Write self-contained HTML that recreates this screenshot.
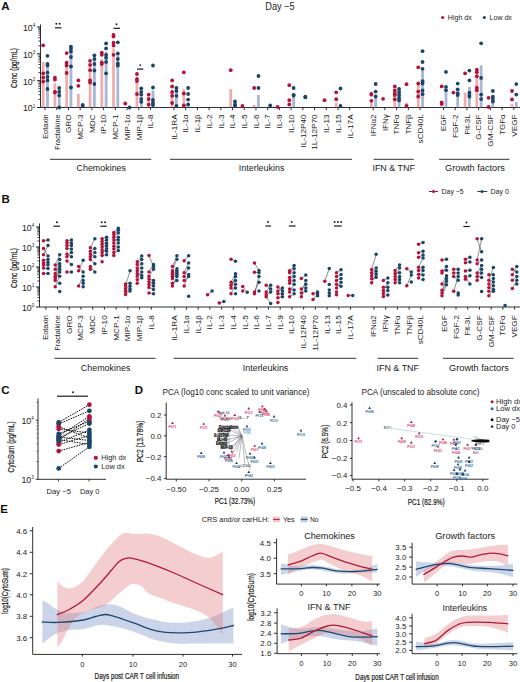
<!DOCTYPE html>
<html><head><meta charset="utf-8"><style>
html,body{margin:0;padding:0;background:#fff;width:520px;height:682px;overflow:hidden}
svg{display:block}
text{font-family:"Liberation Sans",sans-serif}
</style></head><body>
<svg width="520" height="682" viewBox="0 0 520 682">
<rect width="520" height="682" fill="#fff"/>
<text x="5.3" y="5.9" font-size="11.5" fill="#111" font-weight="bold" text-anchor="middle" dominant-baseline="central">A</text>
<text x="280" y="6.9" font-size="10" fill="#222" font-weight="normal" text-anchor="middle" textLength="29.5" lengthAdjust="spacingAndGlyphs" dominant-baseline="central">Day −5</text>
<circle cx="442.7" cy="17.5" r="1.6" fill="#b5123b"/>
<text x="447.8" y="17.5" font-size="7" fill="#222" font-weight="normal" text-anchor="start" textLength="24" lengthAdjust="spacingAndGlyphs" dominant-baseline="central">High dx</text>
<circle cx="484.4" cy="17.5" r="1.6" fill="#1b4568"/>
<text x="489.6" y="17.5" font-size="7" fill="#222" font-weight="normal" text-anchor="start" textLength="22.3" lengthAdjust="spacingAndGlyphs" dominant-baseline="central">Low dx</text>
<line x1="40.5" y1="24.5" x2="40.5" y2="107.5" stroke="#1a1a1a" stroke-width="0.9"/>
<line x1="37.1" y1="107.5" x2="40.5" y2="107.5" stroke="#1a1a1a" stroke-width="1"/>
<text x="35.3" y="108.4" font-size="8.8" fill="#222" text-anchor="end" dominant-baseline="central">10<tspan font-size="4.6" dy="-2.7">1</tspan></text>
<line x1="37.1" y1="80.67" x2="40.5" y2="80.67" stroke="#1a1a1a" stroke-width="1"/>
<text x="35.3" y="81.57" font-size="8.8" fill="#222" text-anchor="end" dominant-baseline="central">10<tspan font-size="4.6" dy="-2.7">2</tspan></text>
<line x1="37.1" y1="53.84" x2="40.5" y2="53.84" stroke="#1a1a1a" stroke-width="1"/>
<text x="35.3" y="54.74" font-size="8.8" fill="#222" text-anchor="end" dominant-baseline="central">10<tspan font-size="4.6" dy="-2.7">3</tspan></text>
<line x1="37.1" y1="27.01" x2="40.5" y2="27.01" stroke="#1a1a1a" stroke-width="1"/>
<text x="35.3" y="27.91" font-size="8.8" fill="#222" text-anchor="end" dominant-baseline="central">10<tspan font-size="4.6" dy="-2.7">4</tspan></text>
<line x1="38.3" y1="99.42" x2="40.5" y2="99.42" stroke="#1a1a1a" stroke-width="0.8"/>
<line x1="38.3" y1="94.7" x2="40.5" y2="94.7" stroke="#1a1a1a" stroke-width="0.8"/>
<line x1="38.3" y1="91.35" x2="40.5" y2="91.35" stroke="#1a1a1a" stroke-width="0.8"/>
<line x1="38.3" y1="88.75" x2="40.5" y2="88.75" stroke="#1a1a1a" stroke-width="0.8"/>
<line x1="38.3" y1="86.62" x2="40.5" y2="86.62" stroke="#1a1a1a" stroke-width="0.8"/>
<line x1="38.3" y1="84.83" x2="40.5" y2="84.83" stroke="#1a1a1a" stroke-width="0.8"/>
<line x1="38.3" y1="83.27" x2="40.5" y2="83.27" stroke="#1a1a1a" stroke-width="0.8"/>
<line x1="38.3" y1="81.9" x2="40.5" y2="81.9" stroke="#1a1a1a" stroke-width="0.8"/>
<line x1="38.3" y1="72.59" x2="40.5" y2="72.59" stroke="#1a1a1a" stroke-width="0.8"/>
<line x1="38.3" y1="67.87" x2="40.5" y2="67.87" stroke="#1a1a1a" stroke-width="0.8"/>
<line x1="38.3" y1="64.52" x2="40.5" y2="64.52" stroke="#1a1a1a" stroke-width="0.8"/>
<line x1="38.3" y1="61.92" x2="40.5" y2="61.92" stroke="#1a1a1a" stroke-width="0.8"/>
<line x1="38.3" y1="59.79" x2="40.5" y2="59.79" stroke="#1a1a1a" stroke-width="0.8"/>
<line x1="38.3" y1="58" x2="40.5" y2="58" stroke="#1a1a1a" stroke-width="0.8"/>
<line x1="38.3" y1="56.44" x2="40.5" y2="56.44" stroke="#1a1a1a" stroke-width="0.8"/>
<line x1="38.3" y1="55.07" x2="40.5" y2="55.07" stroke="#1a1a1a" stroke-width="0.8"/>
<line x1="38.3" y1="45.76" x2="40.5" y2="45.76" stroke="#1a1a1a" stroke-width="0.8"/>
<line x1="38.3" y1="41.04" x2="40.5" y2="41.04" stroke="#1a1a1a" stroke-width="0.8"/>
<line x1="38.3" y1="37.69" x2="40.5" y2="37.69" stroke="#1a1a1a" stroke-width="0.8"/>
<line x1="38.3" y1="35.09" x2="40.5" y2="35.09" stroke="#1a1a1a" stroke-width="0.8"/>
<line x1="38.3" y1="32.96" x2="40.5" y2="32.96" stroke="#1a1a1a" stroke-width="0.8"/>
<line x1="38.3" y1="31.17" x2="40.5" y2="31.17" stroke="#1a1a1a" stroke-width="0.8"/>
<line x1="38.3" y1="29.61" x2="40.5" y2="29.61" stroke="#1a1a1a" stroke-width="0.8"/>
<line x1="38.3" y1="28.24" x2="40.5" y2="28.24" stroke="#1a1a1a" stroke-width="0.8"/>
<line x1="40.5" y1="107.5" x2="520" y2="107.5" stroke="#1a1a1a" stroke-width="0.9"/>
<text transform="translate(13.6,68) rotate(-90)" font-size="9.2" fill="#222" font-weight="normal" text-anchor="middle" textLength="40" lengthAdjust="spacingAndGlyphs" dominant-baseline="central" stroke="#222" stroke-width="0.22">Conc (pg/mL)</text>
<line x1="45" y1="107.5" x2="45" y2="110.2" stroke="#1a1a1a" stroke-width="0.9"/>
<text transform="translate(45.3,114.4) rotate(-90)" font-size="8.1" fill="#222" font-weight="normal" text-anchor="end" textLength="24.35" lengthAdjust="spacingAndGlyphs" dominant-baseline="central">Eotaxin</text>
<line x1="56.72" y1="107.5" x2="56.72" y2="110.2" stroke="#1a1a1a" stroke-width="0.9"/>
<text transform="translate(57.02,114.4) rotate(-90)" font-size="8.1" fill="#222" font-weight="normal" text-anchor="end" textLength="35.3" lengthAdjust="spacingAndGlyphs" dominant-baseline="central">Fractalkine</text>
<line x1="68.44" y1="107.5" x2="68.44" y2="110.2" stroke="#1a1a1a" stroke-width="0.9"/>
<text transform="translate(68.74,114.4) rotate(-90)" font-size="8.1" fill="#222" font-weight="normal" text-anchor="end" textLength="18.62" lengthAdjust="spacingAndGlyphs" dominant-baseline="central">GRO</text>
<line x1="80.16" y1="107.5" x2="80.16" y2="110.2" stroke="#1a1a1a" stroke-width="0.9"/>
<text transform="translate(80.46,114.4) rotate(-90)" font-size="8.1" fill="#222" font-weight="normal" text-anchor="end" textLength="25.44" lengthAdjust="spacingAndGlyphs" dominant-baseline="central">MCP-3</text>
<line x1="91.88" y1="107.5" x2="91.88" y2="110.2" stroke="#1a1a1a" stroke-width="0.9"/>
<text transform="translate(92.18,114.4) rotate(-90)" font-size="8.1" fill="#222" font-weight="normal" text-anchor="end" textLength="18.62" lengthAdjust="spacingAndGlyphs" dominant-baseline="central">MDC</text>
<line x1="103.6" y1="107.5" x2="103.6" y2="110.2" stroke="#1a1a1a" stroke-width="0.9"/>
<text transform="translate(103.9,114.4) rotate(-90)" font-size="8.1" fill="#222" font-weight="normal" text-anchor="end" textLength="19.54" lengthAdjust="spacingAndGlyphs" dominant-baseline="central">IP-10</text>
<line x1="115.32" y1="107.5" x2="115.32" y2="110.2" stroke="#1a1a1a" stroke-width="0.9"/>
<text transform="translate(115.62,114.4) rotate(-90)" font-size="8.1" fill="#222" font-weight="normal" text-anchor="end" textLength="25.44" lengthAdjust="spacingAndGlyphs" dominant-baseline="central">MCP-1</text>
<line x1="127.04" y1="107.5" x2="127.04" y2="110.2" stroke="#1a1a1a" stroke-width="0.9"/>
<text transform="translate(127.34,114.4) rotate(-90)" font-size="8.1" fill="#222" font-weight="normal" text-anchor="end" textLength="25.9" lengthAdjust="spacingAndGlyphs" dominant-baseline="central">MIP-1α</text>
<line x1="138.76" y1="107.5" x2="138.76" y2="110.2" stroke="#1a1a1a" stroke-width="0.9"/>
<text transform="translate(139.06,114.4) rotate(-90)" font-size="8.1" fill="#222" font-weight="normal" text-anchor="end" textLength="25.88" lengthAdjust="spacingAndGlyphs" dominant-baseline="central">MIP-1β</text>
<line x1="150.48" y1="107.5" x2="150.48" y2="110.2" stroke="#1a1a1a" stroke-width="0.9"/>
<text transform="translate(150.78,114.4) rotate(-90)" font-size="8.1" fill="#222" font-weight="normal" text-anchor="end" textLength="14.09" lengthAdjust="spacingAndGlyphs" dominant-baseline="central">IL-8</text>
<line x1="173.92" y1="107.5" x2="173.92" y2="110.2" stroke="#1a1a1a" stroke-width="0.9"/>
<text transform="translate(174.22,114.4) rotate(-90)" font-size="8.1" fill="#222" font-weight="normal" text-anchor="end" textLength="25.45" lengthAdjust="spacingAndGlyphs" dominant-baseline="central">IL-1RA</text>
<line x1="185.64" y1="107.5" x2="185.64" y2="110.2" stroke="#1a1a1a" stroke-width="0.9"/>
<text transform="translate(185.94,114.4) rotate(-90)" font-size="8.1" fill="#222" font-weight="normal" text-anchor="end" textLength="18.18" lengthAdjust="spacingAndGlyphs" dominant-baseline="central">IL-1α</text>
<line x1="197.36" y1="107.5" x2="197.36" y2="110.2" stroke="#1a1a1a" stroke-width="0.9"/>
<text transform="translate(197.66,114.4) rotate(-90)" font-size="8.1" fill="#222" font-weight="normal" text-anchor="end" textLength="18.16" lengthAdjust="spacingAndGlyphs" dominant-baseline="central">IL-1β</text>
<line x1="209.08" y1="107.5" x2="209.08" y2="110.2" stroke="#1a1a1a" stroke-width="0.9"/>
<text transform="translate(209.38,114.4) rotate(-90)" font-size="8.1" fill="#222" font-weight="normal" text-anchor="end" textLength="14.09" lengthAdjust="spacingAndGlyphs" dominant-baseline="central">IL-2</text>
<line x1="220.8" y1="107.5" x2="220.8" y2="110.2" stroke="#1a1a1a" stroke-width="0.9"/>
<text transform="translate(221.1,114.4) rotate(-90)" font-size="8.1" fill="#222" font-weight="normal" text-anchor="end" textLength="14.09" lengthAdjust="spacingAndGlyphs" dominant-baseline="central">IL-3</text>
<line x1="232.52" y1="107.5" x2="232.52" y2="110.2" stroke="#1a1a1a" stroke-width="0.9"/>
<text transform="translate(232.82,114.4) rotate(-90)" font-size="8.1" fill="#222" font-weight="normal" text-anchor="end" textLength="14.09" lengthAdjust="spacingAndGlyphs" dominant-baseline="central">IL-4</text>
<line x1="244.24" y1="107.5" x2="244.24" y2="110.2" stroke="#1a1a1a" stroke-width="0.9"/>
<text transform="translate(244.54,114.4) rotate(-90)" font-size="8.1" fill="#222" font-weight="normal" text-anchor="end" textLength="14.09" lengthAdjust="spacingAndGlyphs" dominant-baseline="central">IL-5</text>
<line x1="255.96" y1="107.5" x2="255.96" y2="110.2" stroke="#1a1a1a" stroke-width="0.9"/>
<text transform="translate(256.26,114.4) rotate(-90)" font-size="8.1" fill="#222" font-weight="normal" text-anchor="end" textLength="14.09" lengthAdjust="spacingAndGlyphs" dominant-baseline="central">IL-6</text>
<line x1="267.68" y1="107.5" x2="267.68" y2="110.2" stroke="#1a1a1a" stroke-width="0.9"/>
<text transform="translate(267.98,114.4) rotate(-90)" font-size="8.1" fill="#222" font-weight="normal" text-anchor="end" textLength="14.09" lengthAdjust="spacingAndGlyphs" dominant-baseline="central">IL-7</text>
<line x1="279.4" y1="107.5" x2="279.4" y2="110.2" stroke="#1a1a1a" stroke-width="0.9"/>
<text transform="translate(279.7,114.4) rotate(-90)" font-size="8.1" fill="#222" font-weight="normal" text-anchor="end" textLength="14.09" lengthAdjust="spacingAndGlyphs" dominant-baseline="central">IL-9</text>
<line x1="291.12" y1="107.5" x2="291.12" y2="110.2" stroke="#1a1a1a" stroke-width="0.9"/>
<text transform="translate(291.42,114.4) rotate(-90)" font-size="8.1" fill="#222" font-weight="normal" text-anchor="end" textLength="18.63" lengthAdjust="spacingAndGlyphs" dominant-baseline="central">IL-10</text>
<line x1="302.84" y1="107.5" x2="302.84" y2="110.2" stroke="#1a1a1a" stroke-width="0.9"/>
<text transform="translate(303.14,114.4) rotate(-90)" font-size="8.1" fill="#222" font-weight="normal" text-anchor="end" textLength="33.18" lengthAdjust="spacingAndGlyphs" dominant-baseline="central">IL-12P40</text>
<line x1="314.56" y1="107.5" x2="314.56" y2="110.2" stroke="#1a1a1a" stroke-width="0.9"/>
<text transform="translate(314.86,114.4) rotate(-90)" font-size="8.1" fill="#222" font-weight="normal" text-anchor="end" textLength="35.46" lengthAdjust="spacingAndGlyphs" dominant-baseline="central">1L-12P70</text>
<line x1="326.28" y1="107.5" x2="326.28" y2="110.2" stroke="#1a1a1a" stroke-width="0.9"/>
<text transform="translate(326.58,114.4) rotate(-90)" font-size="8.1" fill="#222" font-weight="normal" text-anchor="end" textLength="18.63" lengthAdjust="spacingAndGlyphs" dominant-baseline="central">IL-13</text>
<line x1="338" y1="107.5" x2="338" y2="110.2" stroke="#1a1a1a" stroke-width="0.9"/>
<text transform="translate(338.3,114.4) rotate(-90)" font-size="8.1" fill="#222" font-weight="normal" text-anchor="end" textLength="18.63" lengthAdjust="spacingAndGlyphs" dominant-baseline="central">IL-15</text>
<line x1="349.72" y1="107.5" x2="349.72" y2="110.2" stroke="#1a1a1a" stroke-width="0.9"/>
<text transform="translate(350.02,114.4) rotate(-90)" font-size="8.1" fill="#222" font-weight="normal" text-anchor="end" textLength="24.09" lengthAdjust="spacingAndGlyphs" dominant-baseline="central">IL-17A</text>
<line x1="373.16" y1="107.5" x2="373.16" y2="110.2" stroke="#1a1a1a" stroke-width="0.9"/>
<text transform="translate(373.46,114.4) rotate(-90)" font-size="8.1" fill="#222" font-weight="normal" text-anchor="end" textLength="21.81" lengthAdjust="spacingAndGlyphs" dominant-baseline="central">IFNα2</text>
<line x1="384.88" y1="107.5" x2="384.88" y2="110.2" stroke="#1a1a1a" stroke-width="0.9"/>
<text transform="translate(385.18,114.4) rotate(-90)" font-size="8.1" fill="#222" font-weight="normal" text-anchor="end" textLength="16.71" lengthAdjust="spacingAndGlyphs" dominant-baseline="central">IFNγ</text>
<line x1="396.6" y1="107.5" x2="396.6" y2="110.2" stroke="#1a1a1a" stroke-width="0.9"/>
<text transform="translate(396.9,114.4) rotate(-90)" font-size="8.1" fill="#222" font-weight="normal" text-anchor="end" textLength="19.99" lengthAdjust="spacingAndGlyphs" dominant-baseline="central">TNFα</text>
<line x1="408.32" y1="107.5" x2="408.32" y2="110.2" stroke="#1a1a1a" stroke-width="0.9"/>
<text transform="translate(408.62,114.4) rotate(-90)" font-size="8.1" fill="#222" font-weight="normal" text-anchor="end" textLength="19.96" lengthAdjust="spacingAndGlyphs" dominant-baseline="central">TNFβ</text>
<line x1="420.04" y1="107.5" x2="420.04" y2="110.2" stroke="#1a1a1a" stroke-width="0.9"/>
<text transform="translate(420.34,114.4) rotate(-90)" font-size="8.1" fill="#222" font-weight="normal" text-anchor="end" textLength="28.99" lengthAdjust="spacingAndGlyphs" dominant-baseline="central">sCD40L</text>
<line x1="443.48" y1="107.5" x2="443.48" y2="110.2" stroke="#1a1a1a" stroke-width="0.9"/>
<text transform="translate(443.78,114.4) rotate(-90)" font-size="8.1" fill="#222" font-weight="normal" text-anchor="end" textLength="16.81" lengthAdjust="spacingAndGlyphs" dominant-baseline="central">EGF</text>
<line x1="455.2" y1="107.5" x2="455.2" y2="110.2" stroke="#1a1a1a" stroke-width="0.9"/>
<text transform="translate(455.5,114.4) rotate(-90)" font-size="8.1" fill="#222" font-weight="normal" text-anchor="end" textLength="23.62" lengthAdjust="spacingAndGlyphs" dominant-baseline="central">FGF-2</text>
<line x1="466.92" y1="107.5" x2="466.92" y2="110.2" stroke="#1a1a1a" stroke-width="0.9"/>
<text transform="translate(467.22,114.4) rotate(-90)" font-size="8.1" fill="#222" font-weight="normal" text-anchor="end" textLength="20.35" lengthAdjust="spacingAndGlyphs" dominant-baseline="central">Flt-3L</text>
<line x1="478.64" y1="107.5" x2="478.64" y2="110.2" stroke="#1a1a1a" stroke-width="0.9"/>
<text transform="translate(478.94,114.4) rotate(-90)" font-size="8.1" fill="#222" font-weight="normal" text-anchor="end" textLength="25.43" lengthAdjust="spacingAndGlyphs" dominant-baseline="central">G-CSF</text>
<line x1="490.36" y1="107.5" x2="490.36" y2="110.2" stroke="#1a1a1a" stroke-width="0.9"/>
<text transform="translate(490.66,114.4) rotate(-90)" font-size="8.1" fill="#222" font-weight="normal" text-anchor="end" textLength="32.24" lengthAdjust="spacingAndGlyphs" dominant-baseline="central">GM-CSF</text>
<line x1="502.08" y1="107.5" x2="502.08" y2="110.2" stroke="#1a1a1a" stroke-width="0.9"/>
<text transform="translate(502.38,114.4) rotate(-90)" font-size="8.1" fill="#222" font-weight="normal" text-anchor="end" textLength="20.44" lengthAdjust="spacingAndGlyphs" dominant-baseline="central">TGFα</text>
<line x1="513.8" y1="107.5" x2="513.8" y2="110.2" stroke="#1a1a1a" stroke-width="0.9"/>
<text transform="translate(514.1,114.4) rotate(-90)" font-size="8.1" fill="#222" font-weight="normal" text-anchor="end" textLength="22.26" lengthAdjust="spacingAndGlyphs" dominant-baseline="central">VEGF</text>
<rect x="41.8" y="62" width="2.8" height="45.1" fill="#eeaead"/>
<rect x="46.1" y="66" width="2.8" height="41.1" fill="#a8b7d6"/>
<rect x="53.52" y="83.3" width="2.8" height="23.8" fill="#eeaead"/>
<rect x="57.82" y="89" width="2.8" height="18.1" fill="#a8b7d6"/>
<rect x="65.24" y="63.4" width="2.8" height="43.7" fill="#eeaead"/>
<rect x="69.54" y="47" width="2.8" height="60.1" fill="#a8b7d6"/>
<rect x="76.96" y="94" width="2.8" height="13.1" fill="#eeaead"/>
<rect x="88.68" y="67" width="2.8" height="40.1" fill="#eeaead"/>
<rect x="92.98" y="57.7" width="2.8" height="49.4" fill="#a8b7d6"/>
<rect x="100.4" y="59" width="2.8" height="48.1" fill="#eeaead"/>
<rect x="104.7" y="52" width="2.8" height="55.1" fill="#a8b7d6"/>
<rect x="112.12" y="48.4" width="2.8" height="58.7" fill="#eeaead"/>
<rect x="116.42" y="53.4" width="2.8" height="53.7" fill="#a8b7d6"/>
<rect x="135.56" y="82" width="2.8" height="25.1" fill="#eeaead"/>
<rect x="139.86" y="99" width="2.8" height="8.1" fill="#a8b7d6"/>
<rect x="147.28" y="100" width="2.8" height="7.1" fill="#eeaead"/>
<rect x="151.58" y="90.4" width="2.8" height="16.7" fill="#a8b7d6"/>
<rect x="170.72" y="92" width="2.8" height="15.1" fill="#eeaead"/>
<rect x="175.02" y="90" width="2.8" height="17.1" fill="#a8b7d6"/>
<rect x="182.44" y="89" width="2.8" height="18.1" fill="#eeaead"/>
<rect x="186.74" y="103.5" width="2.8" height="3.6" fill="#a8b7d6"/>
<rect x="229.32" y="89" width="2.8" height="18.1" fill="#eeaead"/>
<rect x="252.76" y="105" width="2.8" height="2.1" fill="#eeaead"/>
<rect x="257.06" y="94.8" width="2.8" height="12.3" fill="#a8b7d6"/>
<rect x="292.22" y="94" width="2.8" height="13.1" fill="#a8b7d6"/>
<rect x="334.8" y="102.5" width="2.8" height="4.6" fill="#eeaead"/>
<rect x="369.96" y="102.7" width="2.8" height="4.4" fill="#eeaead"/>
<rect x="374.26" y="96.5" width="2.8" height="10.6" fill="#a8b7d6"/>
<rect x="393.4" y="95" width="2.8" height="12.1" fill="#eeaead"/>
<rect x="397.7" y="88.8" width="2.8" height="18.3" fill="#a8b7d6"/>
<rect x="405.12" y="102.7" width="2.8" height="4.4" fill="#eeaead"/>
<rect x="416.84" y="84.2" width="2.8" height="22.9" fill="#eeaead"/>
<rect x="421.14" y="70.4" width="2.8" height="36.7" fill="#a8b7d6"/>
<rect x="444.58" y="90.2" width="2.8" height="16.9" fill="#a8b7d6"/>
<rect x="456.3" y="89.3" width="2.8" height="17.8" fill="#a8b7d6"/>
<rect x="463.72" y="92.6" width="2.8" height="14.5" fill="#eeaead"/>
<rect x="468.02" y="86.9" width="2.8" height="20.2" fill="#a8b7d6"/>
<rect x="475.44" y="70.5" width="2.8" height="36.6" fill="#eeaead"/>
<rect x="479.74" y="65.3" width="2.8" height="41.8" fill="#a8b7d6"/>
<rect x="491.46" y="100" width="2.8" height="7.1" fill="#a8b7d6"/>
<rect x="510.6" y="104" width="2.8" height="3.1" fill="#eeaead"/>
<rect x="514.9" y="102" width="2.8" height="5.1" fill="#a8b7d6"/>
<circle cx="43.2" cy="45.3" r="1.9" fill="#b5123b"/>
<circle cx="43.2" cy="73.3" r="1.9" fill="#b5123b"/>
<circle cx="43.2" cy="77.6" r="1.9" fill="#b5123b"/>
<circle cx="43.2" cy="81.6" r="1.9" fill="#b5123b"/>
<circle cx="47.5" cy="55.8" r="1.9" fill="#1b4568"/>
<circle cx="47.5" cy="64" r="1.9" fill="#1b4568"/>
<circle cx="47.5" cy="65.5" r="1.9" fill="#1b4568"/>
<circle cx="47.5" cy="72.6" r="1.9" fill="#1b4568"/>
<circle cx="47.5" cy="76.9" r="1.9" fill="#1b4568"/>
<circle cx="47.5" cy="80.4" r="1.9" fill="#1b4568"/>
<circle cx="47.5" cy="89" r="1.9" fill="#1b4568"/>
<circle cx="54.92" cy="77.6" r="1.9" fill="#b5123b"/>
<circle cx="54.92" cy="79.7" r="1.9" fill="#b5123b"/>
<circle cx="54.92" cy="91.8" r="1.9" fill="#b5123b"/>
<circle cx="54.92" cy="92.5" r="1.9" fill="#b5123b"/>
<circle cx="59.22" cy="88" r="1.9" fill="#1b4568"/>
<circle cx="59.22" cy="91.8" r="1.9" fill="#1b4568"/>
<circle cx="59.22" cy="95.4" r="1.9" fill="#1b4568"/>
<circle cx="59.22" cy="107.5" r="1.9" fill="#1b4568"/>
<circle cx="66.64" cy="53.1" r="1.9" fill="#b5123b"/>
<circle cx="66.64" cy="62.7" r="1.9" fill="#b5123b"/>
<circle cx="66.64" cy="65.5" r="1.9" fill="#b5123b"/>
<circle cx="66.64" cy="73" r="1.9" fill="#b5123b"/>
<circle cx="70.94" cy="46.6" r="1.9" fill="#1b4568"/>
<circle cx="70.94" cy="49" r="1.9" fill="#1b4568"/>
<circle cx="70.94" cy="51.7" r="1.9" fill="#1b4568"/>
<circle cx="70.94" cy="57" r="1.9" fill="#1b4568"/>
<circle cx="70.94" cy="66.5" r="1.9" fill="#1b4568"/>
<circle cx="70.94" cy="87.5" r="1.9" fill="#1b4568"/>
<circle cx="78.36" cy="80.4" r="1.9" fill="#b5123b"/>
<circle cx="78.36" cy="85.8" r="1.9" fill="#b5123b"/>
<circle cx="82.66" cy="105" r="1.9" fill="#1b4568"/>
<circle cx="82.66" cy="106" r="1.9" fill="#1b4568"/>
<circle cx="90.08" cy="60.8" r="1.9" fill="#b5123b"/>
<circle cx="90.08" cy="65" r="1.9" fill="#b5123b"/>
<circle cx="90.08" cy="70.2" r="1.9" fill="#b5123b"/>
<circle cx="90.08" cy="80.4" r="1.9" fill="#b5123b"/>
<circle cx="90.08" cy="82.6" r="1.9" fill="#b5123b"/>
<circle cx="94.38" cy="55.3" r="1.9" fill="#1b4568"/>
<circle cx="94.38" cy="59" r="1.9" fill="#1b4568"/>
<circle cx="94.38" cy="64" r="1.9" fill="#1b4568"/>
<circle cx="94.38" cy="70.5" r="1.9" fill="#1b4568"/>
<circle cx="94.38" cy="84" r="1.9" fill="#1b4568"/>
<circle cx="101.8" cy="52.7" r="1.9" fill="#b5123b"/>
<circle cx="101.8" cy="54.8" r="1.9" fill="#b5123b"/>
<circle cx="101.8" cy="62.6" r="1.9" fill="#b5123b"/>
<circle cx="101.8" cy="64" r="1.9" fill="#b5123b"/>
<circle cx="106.1" cy="43.4" r="1.9" fill="#1b4568"/>
<circle cx="106.1" cy="48.4" r="1.9" fill="#1b4568"/>
<circle cx="106.1" cy="54.8" r="1.9" fill="#1b4568"/>
<circle cx="106.1" cy="57.7" r="1.9" fill="#1b4568"/>
<circle cx="106.1" cy="62" r="1.9" fill="#1b4568"/>
<circle cx="106.1" cy="73.3" r="1.9" fill="#1b4568"/>
<circle cx="113.52" cy="34.9" r="1.9" fill="#b5123b"/>
<circle cx="113.52" cy="36.6" r="1.9" fill="#b5123b"/>
<circle cx="113.52" cy="42.7" r="1.9" fill="#b5123b"/>
<circle cx="113.52" cy="45.6" r="1.9" fill="#b5123b"/>
<circle cx="113.52" cy="54.8" r="1.9" fill="#b5123b"/>
<circle cx="117.82" cy="42.3" r="1.9" fill="#1b4568"/>
<circle cx="117.82" cy="53.4" r="1.9" fill="#1b4568"/>
<circle cx="117.82" cy="59" r="1.9" fill="#1b4568"/>
<circle cx="117.82" cy="63.4" r="1.9" fill="#1b4568"/>
<circle cx="117.82" cy="65.5" r="1.9" fill="#1b4568"/>
<circle cx="125.24" cy="103.5" r="1.9" fill="#b5123b"/>
<circle cx="129.54" cy="107.5" r="1.9" fill="#1b4568"/>
<circle cx="136.96" cy="74" r="1.9" fill="#b5123b"/>
<circle cx="136.96" cy="79" r="1.9" fill="#b5123b"/>
<circle cx="136.96" cy="81.1" r="1.9" fill="#b5123b"/>
<circle cx="136.96" cy="94" r="1.9" fill="#b5123b"/>
<circle cx="141.26" cy="88.3" r="1.9" fill="#1b4568"/>
<circle cx="141.26" cy="91.8" r="1.9" fill="#1b4568"/>
<circle cx="141.26" cy="94.7" r="1.9" fill="#1b4568"/>
<circle cx="141.26" cy="99" r="1.9" fill="#1b4568"/>
<circle cx="141.26" cy="101.8" r="1.9" fill="#1b4568"/>
<circle cx="148.68" cy="94.7" r="1.9" fill="#b5123b"/>
<circle cx="148.68" cy="99" r="1.9" fill="#b5123b"/>
<circle cx="148.68" cy="104.6" r="1.9" fill="#b5123b"/>
<circle cx="152.98" cy="65.5" r="1.9" fill="#1b4568"/>
<circle cx="152.98" cy="87.5" r="1.9" fill="#1b4568"/>
<circle cx="152.98" cy="100" r="1.9" fill="#1b4568"/>
<circle cx="152.98" cy="103" r="1.9" fill="#1b4568"/>
<circle cx="152.98" cy="105" r="1.9" fill="#1b4568"/>
<circle cx="172.12" cy="80.4" r="1.9" fill="#b5123b"/>
<circle cx="172.12" cy="86.5" r="1.9" fill="#b5123b"/>
<circle cx="172.12" cy="92" r="1.9" fill="#b5123b"/>
<circle cx="172.12" cy="95.8" r="1.9" fill="#b5123b"/>
<circle cx="172.12" cy="103" r="1.9" fill="#b5123b"/>
<circle cx="176.42" cy="88" r="1.9" fill="#1b4568"/>
<circle cx="176.42" cy="91" r="1.9" fill="#1b4568"/>
<circle cx="176.42" cy="95.8" r="1.9" fill="#1b4568"/>
<circle cx="176.42" cy="106" r="1.9" fill="#1b4568"/>
<circle cx="183.84" cy="72.3" r="1.9" fill="#b5123b"/>
<circle cx="183.84" cy="93.5" r="1.9" fill="#b5123b"/>
<circle cx="183.84" cy="105.4" r="1.9" fill="#b5123b"/>
<circle cx="188.14" cy="88" r="1.9" fill="#1b4568"/>
<circle cx="188.14" cy="94" r="1.9" fill="#1b4568"/>
<circle cx="188.14" cy="99.6" r="1.9" fill="#1b4568"/>
<circle cx="188.14" cy="104.4" r="1.9" fill="#1b4568"/>
<circle cx="230.72" cy="70.2" r="1.9" fill="#b5123b"/>
<circle cx="235.02" cy="101.5" r="1.9" fill="#1b4568"/>
<circle cx="235.02" cy="104.4" r="1.9" fill="#1b4568"/>
<circle cx="235.02" cy="106" r="1.9" fill="#1b4568"/>
<circle cx="242.44" cy="106" r="1.9" fill="#b5123b"/>
<circle cx="254.16" cy="88" r="1.9" fill="#b5123b"/>
<circle cx="258.46" cy="76" r="1.9" fill="#1b4568"/>
<circle cx="258.46" cy="88" r="1.9" fill="#1b4568"/>
<circle cx="270.18" cy="105.4" r="1.9" fill="#1b4568"/>
<circle cx="277.6" cy="107" r="1.9" fill="#b5123b"/>
<circle cx="289.32" cy="85.2" r="1.9" fill="#b5123b"/>
<circle cx="289.32" cy="100.2" r="1.9" fill="#b5123b"/>
<circle cx="289.32" cy="104.4" r="1.9" fill="#b5123b"/>
<circle cx="293.62" cy="88" r="1.9" fill="#1b4568"/>
<circle cx="293.62" cy="94.8" r="1.9" fill="#1b4568"/>
<circle cx="293.62" cy="95.5" r="1.9" fill="#1b4568"/>
<circle cx="305.34" cy="96.7" r="1.9" fill="#1b4568"/>
<circle cx="305.34" cy="97.3" r="1.9" fill="#1b4568"/>
<circle cx="324.48" cy="100.2" r="1.9" fill="#b5123b"/>
<circle cx="336.2" cy="92.3" r="1.9" fill="#b5123b"/>
<circle cx="336.2" cy="99.2" r="1.9" fill="#b5123b"/>
<circle cx="340.5" cy="88.5" r="1.9" fill="#1b4568"/>
<circle cx="340.5" cy="106" r="1.9" fill="#1b4568"/>
<circle cx="371.36" cy="93.8" r="1.9" fill="#b5123b"/>
<circle cx="371.36" cy="94.7" r="1.9" fill="#b5123b"/>
<circle cx="371.36" cy="100.8" r="1.9" fill="#b5123b"/>
<circle cx="375.66" cy="84" r="1.9" fill="#1b4568"/>
<circle cx="375.66" cy="91.6" r="1.9" fill="#1b4568"/>
<circle cx="375.66" cy="96.5" r="1.9" fill="#1b4568"/>
<circle cx="383.08" cy="98.8" r="1.9" fill="#b5123b"/>
<circle cx="394.8" cy="86.5" r="1.9" fill="#b5123b"/>
<circle cx="394.8" cy="90.4" r="1.9" fill="#b5123b"/>
<circle cx="394.8" cy="93.5" r="1.9" fill="#b5123b"/>
<circle cx="394.8" cy="95" r="1.9" fill="#b5123b"/>
<circle cx="394.8" cy="99.3" r="1.9" fill="#b5123b"/>
<circle cx="399.1" cy="88.8" r="1.9" fill="#1b4568"/>
<circle cx="399.1" cy="92" r="1.9" fill="#1b4568"/>
<circle cx="399.1" cy="95" r="1.9" fill="#1b4568"/>
<circle cx="399.1" cy="98" r="1.9" fill="#1b4568"/>
<circle cx="399.1" cy="100.4" r="1.9" fill="#1b4568"/>
<circle cx="406.52" cy="84.2" r="1.9" fill="#b5123b"/>
<circle cx="406.52" cy="105.8" r="1.9" fill="#b5123b"/>
<circle cx="418.24" cy="67.3" r="1.9" fill="#b5123b"/>
<circle cx="418.24" cy="83.5" r="1.9" fill="#b5123b"/>
<circle cx="418.24" cy="91.6" r="1.9" fill="#b5123b"/>
<circle cx="418.24" cy="96.5" r="1.9" fill="#b5123b"/>
<circle cx="422.54" cy="51.2" r="1.9" fill="#1b4568"/>
<circle cx="422.54" cy="62" r="1.9" fill="#1b4568"/>
<circle cx="422.54" cy="68.8" r="1.9" fill="#1b4568"/>
<circle cx="422.54" cy="81.2" r="1.9" fill="#1b4568"/>
<circle cx="422.54" cy="83.5" r="1.9" fill="#1b4568"/>
<circle cx="422.54" cy="90.4" r="1.9" fill="#1b4568"/>
<circle cx="422.54" cy="94.2" r="1.9" fill="#1b4568"/>
<circle cx="441.68" cy="86.4" r="1.9" fill="#b5123b"/>
<circle cx="441.68" cy="102.4" r="1.9" fill="#b5123b"/>
<circle cx="441.68" cy="104" r="1.9" fill="#b5123b"/>
<circle cx="445.98" cy="71.9" r="1.9" fill="#1b4568"/>
<circle cx="445.98" cy="86.9" r="1.9" fill="#1b4568"/>
<circle cx="445.98" cy="90.2" r="1.9" fill="#1b4568"/>
<circle cx="453.4" cy="92.6" r="1.9" fill="#b5123b"/>
<circle cx="457.7" cy="83.6" r="1.9" fill="#1b4568"/>
<circle cx="457.7" cy="89.3" r="1.9" fill="#1b4568"/>
<circle cx="457.7" cy="93.4" r="1.9" fill="#1b4568"/>
<circle cx="457.7" cy="95" r="1.9" fill="#1b4568"/>
<circle cx="465.12" cy="73.3" r="1.9" fill="#b5123b"/>
<circle cx="469.42" cy="70.6" r="1.9" fill="#1b4568"/>
<circle cx="469.42" cy="80.4" r="1.9" fill="#1b4568"/>
<circle cx="469.42" cy="92.6" r="1.9" fill="#1b4568"/>
<circle cx="469.42" cy="95" r="1.9" fill="#1b4568"/>
<circle cx="469.42" cy="96.7" r="1.9" fill="#1b4568"/>
<circle cx="476.84" cy="69.7" r="1.9" fill="#b5123b"/>
<circle cx="476.84" cy="72.2" r="1.9" fill="#b5123b"/>
<circle cx="476.84" cy="76.3" r="1.9" fill="#b5123b"/>
<circle cx="476.84" cy="87.7" r="1.9" fill="#b5123b"/>
<circle cx="476.84" cy="90.2" r="1.9" fill="#b5123b"/>
<circle cx="481.14" cy="43.3" r="1.9" fill="#1b4568"/>
<circle cx="481.14" cy="77.9" r="1.9" fill="#1b4568"/>
<circle cx="481.14" cy="94.6" r="1.9" fill="#1b4568"/>
<circle cx="481.14" cy="99.1" r="1.9" fill="#1b4568"/>
<circle cx="488.56" cy="97.8" r="1.9" fill="#b5123b"/>
<circle cx="488.56" cy="107" r="1.9" fill="#b5123b"/>
<circle cx="492.86" cy="91" r="1.9" fill="#1b4568"/>
<circle cx="492.86" cy="96.7" r="1.9" fill="#1b4568"/>
<circle cx="492.86" cy="99" r="1.9" fill="#1b4568"/>
<circle cx="492.86" cy="101.6" r="1.9" fill="#1b4568"/>
<circle cx="512" cy="91" r="1.9" fill="#b5123b"/>
<circle cx="512" cy="99.5" r="1.9" fill="#b5123b"/>
<circle cx="516.3" cy="84.1" r="1.9" fill="#1b4568"/>
<circle cx="516.3" cy="94.6" r="1.9" fill="#1b4568"/>
<circle cx="56.35" cy="23.8" r="0.95" fill="#1a1a1a"/>
<circle cx="59.65" cy="23.8" r="0.95" fill="#1a1a1a"/>
<line x1="55" y1="27.8" x2="61.5" y2="27.8" stroke="#1a1a1a" stroke-width="1.2"/>
<circle cx="116.5" cy="24.3" r="0.95" fill="#1a1a1a"/>
<line x1="113.5" y1="28.3" x2="120" y2="28.3" stroke="#1a1a1a" stroke-width="1.2"/>
<circle cx="140.2" cy="65.1" r="0.95" fill="#1a1a1a"/>
<line x1="137" y1="69.1" x2="143.4" y2="69.1" stroke="#1a1a1a" stroke-width="1.2"/>
<line x1="50" y1="159.3" x2="151.3" y2="159.3" stroke="#1a1a1a" stroke-width="0.9"/>
<text x="101.25" y="167.5" font-size="9.6" fill="#222" font-weight="normal" text-anchor="middle" textLength="49.5" lengthAdjust="spacingAndGlyphs" dominant-baseline="central">Chemokines</text>
<line x1="170" y1="159.3" x2="352" y2="159.3" stroke="#1a1a1a" stroke-width="0.9"/>
<text x="261.6" y="167.5" font-size="9.6" fill="#222" font-weight="normal" text-anchor="middle" textLength="45.5" lengthAdjust="spacingAndGlyphs" dominant-baseline="central">Interleukins</text>
<line x1="373.7" y1="159.3" x2="413.7" y2="159.3" stroke="#1a1a1a" stroke-width="0.9"/>
<text x="393.7" y="167.5" font-size="9.6" fill="#222" font-weight="normal" text-anchor="middle" textLength="42.5" lengthAdjust="spacingAndGlyphs" dominant-baseline="central">IFN &amp; TNF</text>
<line x1="439.2" y1="159.3" x2="509.5" y2="159.3" stroke="#1a1a1a" stroke-width="0.9"/>
<text x="474.95" y="167.5" font-size="9.6" fill="#222" font-weight="normal" text-anchor="middle" textLength="59.8" lengthAdjust="spacingAndGlyphs" dominant-baseline="central">Growth factors</text>
<text x="5.6" y="198.8" font-size="11.5" fill="#111" font-weight="bold" text-anchor="middle" dominant-baseline="central">B</text>
<line x1="39.5" y1="223.5" x2="39.5" y2="307" stroke="#1a1a1a" stroke-width="0.9"/>
<line x1="36.1" y1="307" x2="39.5" y2="307" stroke="#1a1a1a" stroke-width="1"/>
<text x="34.3" y="307.9" font-size="8.8" fill="#222" text-anchor="end" dominant-baseline="central">10<tspan font-size="4.6" dy="-2.7">0</tspan></text>
<line x1="36.1" y1="287" x2="39.5" y2="287" stroke="#1a1a1a" stroke-width="1"/>
<text x="34.3" y="287.9" font-size="8.8" fill="#222" text-anchor="end" dominant-baseline="central">10<tspan font-size="4.6" dy="-2.7">1</tspan></text>
<line x1="36.1" y1="267" x2="39.5" y2="267" stroke="#1a1a1a" stroke-width="1"/>
<text x="34.3" y="267.9" font-size="8.8" fill="#222" text-anchor="end" dominant-baseline="central">10<tspan font-size="4.6" dy="-2.7">2</tspan></text>
<line x1="36.1" y1="247" x2="39.5" y2="247" stroke="#1a1a1a" stroke-width="1"/>
<text x="34.3" y="247.9" font-size="8.8" fill="#222" text-anchor="end" dominant-baseline="central">10<tspan font-size="4.6" dy="-2.7">3</tspan></text>
<line x1="36.1" y1="227" x2="39.5" y2="227" stroke="#1a1a1a" stroke-width="1"/>
<text x="34.3" y="227.9" font-size="8.8" fill="#222" text-anchor="end" dominant-baseline="central">10<tspan font-size="4.6" dy="-2.7">4</tspan></text>
<line x1="37.3" y1="300.98" x2="39.5" y2="300.98" stroke="#1a1a1a" stroke-width="0.8"/>
<line x1="37.3" y1="297.46" x2="39.5" y2="297.46" stroke="#1a1a1a" stroke-width="0.8"/>
<line x1="37.3" y1="294.96" x2="39.5" y2="294.96" stroke="#1a1a1a" stroke-width="0.8"/>
<line x1="37.3" y1="293.02" x2="39.5" y2="293.02" stroke="#1a1a1a" stroke-width="0.8"/>
<line x1="37.3" y1="291.44" x2="39.5" y2="291.44" stroke="#1a1a1a" stroke-width="0.8"/>
<line x1="37.3" y1="290.1" x2="39.5" y2="290.1" stroke="#1a1a1a" stroke-width="0.8"/>
<line x1="37.3" y1="288.94" x2="39.5" y2="288.94" stroke="#1a1a1a" stroke-width="0.8"/>
<line x1="37.3" y1="287.92" x2="39.5" y2="287.92" stroke="#1a1a1a" stroke-width="0.8"/>
<line x1="37.3" y1="280.98" x2="39.5" y2="280.98" stroke="#1a1a1a" stroke-width="0.8"/>
<line x1="37.3" y1="277.46" x2="39.5" y2="277.46" stroke="#1a1a1a" stroke-width="0.8"/>
<line x1="37.3" y1="274.96" x2="39.5" y2="274.96" stroke="#1a1a1a" stroke-width="0.8"/>
<line x1="37.3" y1="273.02" x2="39.5" y2="273.02" stroke="#1a1a1a" stroke-width="0.8"/>
<line x1="37.3" y1="271.44" x2="39.5" y2="271.44" stroke="#1a1a1a" stroke-width="0.8"/>
<line x1="37.3" y1="270.1" x2="39.5" y2="270.1" stroke="#1a1a1a" stroke-width="0.8"/>
<line x1="37.3" y1="268.94" x2="39.5" y2="268.94" stroke="#1a1a1a" stroke-width="0.8"/>
<line x1="37.3" y1="267.92" x2="39.5" y2="267.92" stroke="#1a1a1a" stroke-width="0.8"/>
<line x1="37.3" y1="260.98" x2="39.5" y2="260.98" stroke="#1a1a1a" stroke-width="0.8"/>
<line x1="37.3" y1="257.46" x2="39.5" y2="257.46" stroke="#1a1a1a" stroke-width="0.8"/>
<line x1="37.3" y1="254.96" x2="39.5" y2="254.96" stroke="#1a1a1a" stroke-width="0.8"/>
<line x1="37.3" y1="253.02" x2="39.5" y2="253.02" stroke="#1a1a1a" stroke-width="0.8"/>
<line x1="37.3" y1="251.44" x2="39.5" y2="251.44" stroke="#1a1a1a" stroke-width="0.8"/>
<line x1="37.3" y1="250.1" x2="39.5" y2="250.1" stroke="#1a1a1a" stroke-width="0.8"/>
<line x1="37.3" y1="248.94" x2="39.5" y2="248.94" stroke="#1a1a1a" stroke-width="0.8"/>
<line x1="37.3" y1="247.92" x2="39.5" y2="247.92" stroke="#1a1a1a" stroke-width="0.8"/>
<line x1="37.3" y1="240.98" x2="39.5" y2="240.98" stroke="#1a1a1a" stroke-width="0.8"/>
<line x1="37.3" y1="237.46" x2="39.5" y2="237.46" stroke="#1a1a1a" stroke-width="0.8"/>
<line x1="37.3" y1="234.96" x2="39.5" y2="234.96" stroke="#1a1a1a" stroke-width="0.8"/>
<line x1="37.3" y1="233.02" x2="39.5" y2="233.02" stroke="#1a1a1a" stroke-width="0.8"/>
<line x1="37.3" y1="231.44" x2="39.5" y2="231.44" stroke="#1a1a1a" stroke-width="0.8"/>
<line x1="37.3" y1="230.1" x2="39.5" y2="230.1" stroke="#1a1a1a" stroke-width="0.8"/>
<line x1="37.3" y1="228.94" x2="39.5" y2="228.94" stroke="#1a1a1a" stroke-width="0.8"/>
<line x1="37.3" y1="227.92" x2="39.5" y2="227.92" stroke="#1a1a1a" stroke-width="0.8"/>
<line x1="39.5" y1="307" x2="520" y2="307" stroke="#1a1a1a" stroke-width="0.9"/>
<text transform="translate(13.6,268) rotate(-90)" font-size="9.2" fill="#222" font-weight="normal" text-anchor="middle" textLength="40" lengthAdjust="spacingAndGlyphs" dominant-baseline="central" stroke="#222" stroke-width="0.22">Conc (pg/mL)</text>
<line x1="45.8" y1="307" x2="45.8" y2="309.7" stroke="#1a1a1a" stroke-width="0.9"/>
<text transform="translate(45.8,315.3) rotate(-90)" font-size="8.1" fill="#222" font-weight="normal" text-anchor="end" textLength="24.35" lengthAdjust="spacingAndGlyphs" dominant-baseline="central">Eotaxin</text>
<line x1="57.52" y1="307" x2="57.52" y2="309.7" stroke="#1a1a1a" stroke-width="0.9"/>
<text transform="translate(57.52,315.3) rotate(-90)" font-size="8.1" fill="#222" font-weight="normal" text-anchor="end" textLength="35.3" lengthAdjust="spacingAndGlyphs" dominant-baseline="central">Fractalkine</text>
<line x1="69.24" y1="307" x2="69.24" y2="309.7" stroke="#1a1a1a" stroke-width="0.9"/>
<text transform="translate(69.24,315.3) rotate(-90)" font-size="8.1" fill="#222" font-weight="normal" text-anchor="end" textLength="18.62" lengthAdjust="spacingAndGlyphs" dominant-baseline="central">GRO</text>
<line x1="80.96" y1="307" x2="80.96" y2="309.7" stroke="#1a1a1a" stroke-width="0.9"/>
<text transform="translate(80.96,315.3) rotate(-90)" font-size="8.1" fill="#222" font-weight="normal" text-anchor="end" textLength="25.44" lengthAdjust="spacingAndGlyphs" dominant-baseline="central">MCP-3</text>
<line x1="92.68" y1="307" x2="92.68" y2="309.7" stroke="#1a1a1a" stroke-width="0.9"/>
<text transform="translate(92.68,315.3) rotate(-90)" font-size="8.1" fill="#222" font-weight="normal" text-anchor="end" textLength="18.62" lengthAdjust="spacingAndGlyphs" dominant-baseline="central">MDC</text>
<line x1="104.4" y1="307" x2="104.4" y2="309.7" stroke="#1a1a1a" stroke-width="0.9"/>
<text transform="translate(104.4,315.3) rotate(-90)" font-size="8.1" fill="#222" font-weight="normal" text-anchor="end" textLength="19.54" lengthAdjust="spacingAndGlyphs" dominant-baseline="central">IP-10</text>
<line x1="116.12" y1="307" x2="116.12" y2="309.7" stroke="#1a1a1a" stroke-width="0.9"/>
<text transform="translate(116.12,315.3) rotate(-90)" font-size="8.1" fill="#222" font-weight="normal" text-anchor="end" textLength="25.44" lengthAdjust="spacingAndGlyphs" dominant-baseline="central">MCP-1</text>
<line x1="127.84" y1="307" x2="127.84" y2="309.7" stroke="#1a1a1a" stroke-width="0.9"/>
<text transform="translate(127.84,315.3) rotate(-90)" font-size="8.1" fill="#222" font-weight="normal" text-anchor="end" textLength="25.9" lengthAdjust="spacingAndGlyphs" dominant-baseline="central">MIP-1α</text>
<line x1="139.56" y1="307" x2="139.56" y2="309.7" stroke="#1a1a1a" stroke-width="0.9"/>
<text transform="translate(139.56,315.3) rotate(-90)" font-size="8.1" fill="#222" font-weight="normal" text-anchor="end" textLength="25.88" lengthAdjust="spacingAndGlyphs" dominant-baseline="central">MIP-1β</text>
<line x1="151.28" y1="307" x2="151.28" y2="309.7" stroke="#1a1a1a" stroke-width="0.9"/>
<text transform="translate(151.28,315.3) rotate(-90)" font-size="8.1" fill="#222" font-weight="normal" text-anchor="end" textLength="14.09" lengthAdjust="spacingAndGlyphs" dominant-baseline="central">IL-8</text>
<line x1="174.72" y1="307" x2="174.72" y2="309.7" stroke="#1a1a1a" stroke-width="0.9"/>
<text transform="translate(174.72,315.3) rotate(-90)" font-size="8.1" fill="#222" font-weight="normal" text-anchor="end" textLength="25.45" lengthAdjust="spacingAndGlyphs" dominant-baseline="central">IL-1RA</text>
<line x1="186.44" y1="307" x2="186.44" y2="309.7" stroke="#1a1a1a" stroke-width="0.9"/>
<text transform="translate(186.44,315.3) rotate(-90)" font-size="8.1" fill="#222" font-weight="normal" text-anchor="end" textLength="18.18" lengthAdjust="spacingAndGlyphs" dominant-baseline="central">IL-1α</text>
<line x1="198.16" y1="307" x2="198.16" y2="309.7" stroke="#1a1a1a" stroke-width="0.9"/>
<text transform="translate(198.16,315.3) rotate(-90)" font-size="8.1" fill="#222" font-weight="normal" text-anchor="end" textLength="18.16" lengthAdjust="spacingAndGlyphs" dominant-baseline="central">IL-1β</text>
<line x1="209.88" y1="307" x2="209.88" y2="309.7" stroke="#1a1a1a" stroke-width="0.9"/>
<text transform="translate(209.88,315.3) rotate(-90)" font-size="8.1" fill="#222" font-weight="normal" text-anchor="end" textLength="14.09" lengthAdjust="spacingAndGlyphs" dominant-baseline="central">IL-2</text>
<line x1="221.6" y1="307" x2="221.6" y2="309.7" stroke="#1a1a1a" stroke-width="0.9"/>
<text transform="translate(221.6,315.3) rotate(-90)" font-size="8.1" fill="#222" font-weight="normal" text-anchor="end" textLength="14.09" lengthAdjust="spacingAndGlyphs" dominant-baseline="central">IL-3</text>
<line x1="233.32" y1="307" x2="233.32" y2="309.7" stroke="#1a1a1a" stroke-width="0.9"/>
<text transform="translate(233.32,315.3) rotate(-90)" font-size="8.1" fill="#222" font-weight="normal" text-anchor="end" textLength="14.09" lengthAdjust="spacingAndGlyphs" dominant-baseline="central">IL-4</text>
<line x1="245.04" y1="307" x2="245.04" y2="309.7" stroke="#1a1a1a" stroke-width="0.9"/>
<text transform="translate(245.04,315.3) rotate(-90)" font-size="8.1" fill="#222" font-weight="normal" text-anchor="end" textLength="14.09" lengthAdjust="spacingAndGlyphs" dominant-baseline="central">IL-5</text>
<line x1="256.76" y1="307" x2="256.76" y2="309.7" stroke="#1a1a1a" stroke-width="0.9"/>
<text transform="translate(256.76,315.3) rotate(-90)" font-size="8.1" fill="#222" font-weight="normal" text-anchor="end" textLength="14.09" lengthAdjust="spacingAndGlyphs" dominant-baseline="central">IL-6</text>
<line x1="268.48" y1="307" x2="268.48" y2="309.7" stroke="#1a1a1a" stroke-width="0.9"/>
<text transform="translate(268.48,315.3) rotate(-90)" font-size="8.1" fill="#222" font-weight="normal" text-anchor="end" textLength="14.09" lengthAdjust="spacingAndGlyphs" dominant-baseline="central">IL-7</text>
<line x1="280.2" y1="307" x2="280.2" y2="309.7" stroke="#1a1a1a" stroke-width="0.9"/>
<text transform="translate(280.2,315.3) rotate(-90)" font-size="8.1" fill="#222" font-weight="normal" text-anchor="end" textLength="14.09" lengthAdjust="spacingAndGlyphs" dominant-baseline="central">IL-9</text>
<line x1="291.92" y1="307" x2="291.92" y2="309.7" stroke="#1a1a1a" stroke-width="0.9"/>
<text transform="translate(291.92,315.3) rotate(-90)" font-size="8.1" fill="#222" font-weight="normal" text-anchor="end" textLength="18.63" lengthAdjust="spacingAndGlyphs" dominant-baseline="central">IL-10</text>
<line x1="303.64" y1="307" x2="303.64" y2="309.7" stroke="#1a1a1a" stroke-width="0.9"/>
<text transform="translate(303.64,315.3) rotate(-90)" font-size="8.1" fill="#222" font-weight="normal" text-anchor="end" textLength="33.18" lengthAdjust="spacingAndGlyphs" dominant-baseline="central">IL-12P40</text>
<line x1="315.36" y1="307" x2="315.36" y2="309.7" stroke="#1a1a1a" stroke-width="0.9"/>
<text transform="translate(315.36,315.3) rotate(-90)" font-size="8.1" fill="#222" font-weight="normal" text-anchor="end" textLength="35.46" lengthAdjust="spacingAndGlyphs" dominant-baseline="central">1L-12P70</text>
<line x1="327.08" y1="307" x2="327.08" y2="309.7" stroke="#1a1a1a" stroke-width="0.9"/>
<text transform="translate(327.08,315.3) rotate(-90)" font-size="8.1" fill="#222" font-weight="normal" text-anchor="end" textLength="18.63" lengthAdjust="spacingAndGlyphs" dominant-baseline="central">IL-13</text>
<line x1="338.8" y1="307" x2="338.8" y2="309.7" stroke="#1a1a1a" stroke-width="0.9"/>
<text transform="translate(338.8,315.3) rotate(-90)" font-size="8.1" fill="#222" font-weight="normal" text-anchor="end" textLength="18.63" lengthAdjust="spacingAndGlyphs" dominant-baseline="central">IL-15</text>
<line x1="350.52" y1="307" x2="350.52" y2="309.7" stroke="#1a1a1a" stroke-width="0.9"/>
<text transform="translate(350.52,315.3) rotate(-90)" font-size="8.1" fill="#222" font-weight="normal" text-anchor="end" textLength="24.09" lengthAdjust="spacingAndGlyphs" dominant-baseline="central">IL-17A</text>
<line x1="373.96" y1="307" x2="373.96" y2="309.7" stroke="#1a1a1a" stroke-width="0.9"/>
<text transform="translate(373.96,315.3) rotate(-90)" font-size="8.1" fill="#222" font-weight="normal" text-anchor="end" textLength="21.81" lengthAdjust="spacingAndGlyphs" dominant-baseline="central">IFNα2</text>
<line x1="385.68" y1="307" x2="385.68" y2="309.7" stroke="#1a1a1a" stroke-width="0.9"/>
<text transform="translate(385.68,315.3) rotate(-90)" font-size="8.1" fill="#222" font-weight="normal" text-anchor="end" textLength="16.71" lengthAdjust="spacingAndGlyphs" dominant-baseline="central">IFNγ</text>
<line x1="397.4" y1="307" x2="397.4" y2="309.7" stroke="#1a1a1a" stroke-width="0.9"/>
<text transform="translate(397.4,315.3) rotate(-90)" font-size="8.1" fill="#222" font-weight="normal" text-anchor="end" textLength="19.99" lengthAdjust="spacingAndGlyphs" dominant-baseline="central">TNFα</text>
<line x1="409.12" y1="307" x2="409.12" y2="309.7" stroke="#1a1a1a" stroke-width="0.9"/>
<text transform="translate(409.12,315.3) rotate(-90)" font-size="8.1" fill="#222" font-weight="normal" text-anchor="end" textLength="19.96" lengthAdjust="spacingAndGlyphs" dominant-baseline="central">TNFβ</text>
<line x1="420.84" y1="307" x2="420.84" y2="309.7" stroke="#1a1a1a" stroke-width="0.9"/>
<text transform="translate(420.84,315.3) rotate(-90)" font-size="8.1" fill="#222" font-weight="normal" text-anchor="end" textLength="28.99" lengthAdjust="spacingAndGlyphs" dominant-baseline="central">sCD40L</text>
<line x1="444.28" y1="307" x2="444.28" y2="309.7" stroke="#1a1a1a" stroke-width="0.9"/>
<text transform="translate(444.28,315.3) rotate(-90)" font-size="8.1" fill="#222" font-weight="normal" text-anchor="end" textLength="16.81" lengthAdjust="spacingAndGlyphs" dominant-baseline="central">EGF</text>
<line x1="456" y1="307" x2="456" y2="309.7" stroke="#1a1a1a" stroke-width="0.9"/>
<text transform="translate(456,315.3) rotate(-90)" font-size="8.1" fill="#222" font-weight="normal" text-anchor="end" textLength="23.62" lengthAdjust="spacingAndGlyphs" dominant-baseline="central">FGF-2</text>
<line x1="467.72" y1="307" x2="467.72" y2="309.7" stroke="#1a1a1a" stroke-width="0.9"/>
<text transform="translate(467.72,315.3) rotate(-90)" font-size="8.1" fill="#222" font-weight="normal" text-anchor="end" textLength="20.35" lengthAdjust="spacingAndGlyphs" dominant-baseline="central">Flt-3L</text>
<line x1="479.44" y1="307" x2="479.44" y2="309.7" stroke="#1a1a1a" stroke-width="0.9"/>
<text transform="translate(479.44,315.3) rotate(-90)" font-size="8.1" fill="#222" font-weight="normal" text-anchor="end" textLength="25.43" lengthAdjust="spacingAndGlyphs" dominant-baseline="central">G-CSF</text>
<line x1="491.16" y1="307" x2="491.16" y2="309.7" stroke="#1a1a1a" stroke-width="0.9"/>
<text transform="translate(491.16,315.3) rotate(-90)" font-size="8.1" fill="#222" font-weight="normal" text-anchor="end" textLength="32.24" lengthAdjust="spacingAndGlyphs" dominant-baseline="central">GM-CSF</text>
<line x1="502.88" y1="307" x2="502.88" y2="309.7" stroke="#1a1a1a" stroke-width="0.9"/>
<text transform="translate(502.88,315.3) rotate(-90)" font-size="8.1" fill="#222" font-weight="normal" text-anchor="end" textLength="20.44" lengthAdjust="spacingAndGlyphs" dominant-baseline="central">TGFα</text>
<line x1="514.6" y1="307" x2="514.6" y2="309.7" stroke="#1a1a1a" stroke-width="0.9"/>
<text transform="translate(514.6,315.3) rotate(-90)" font-size="8.1" fill="#222" font-weight="normal" text-anchor="end" textLength="22.26" lengthAdjust="spacingAndGlyphs" dominant-baseline="central">VEGF</text>
<line x1="54.5" y1="358.3" x2="155.5" y2="358.3" stroke="#1a1a1a" stroke-width="0.9"/>
<text x="105.6" y="367.5" font-size="9.6" fill="#222" font-weight="normal" text-anchor="middle" textLength="49.5" lengthAdjust="spacingAndGlyphs" dominant-baseline="central">Chemokines</text>
<line x1="173.7" y1="358.3" x2="356.2" y2="358.3" stroke="#1a1a1a" stroke-width="0.9"/>
<text x="265.55" y="367.5" font-size="9.6" fill="#222" font-weight="normal" text-anchor="middle" textLength="45.5" lengthAdjust="spacingAndGlyphs" dominant-baseline="central">Interleukins</text>
<line x1="377.5" y1="358.3" x2="418" y2="358.3" stroke="#1a1a1a" stroke-width="0.9"/>
<text x="397.75" y="367.5" font-size="9.6" fill="#222" font-weight="normal" text-anchor="middle" textLength="42.5" lengthAdjust="spacingAndGlyphs" dominant-baseline="central">IFN &amp; TNF</text>
<line x1="443" y1="358.3" x2="513.7" y2="358.3" stroke="#1a1a1a" stroke-width="0.9"/>
<text x="478.95" y="367.5" font-size="9.6" fill="#222" font-weight="normal" text-anchor="middle" textLength="59.8" lengthAdjust="spacingAndGlyphs" dominant-baseline="central">Growth factors</text>
<line x1="428.9" y1="191.5" x2="438.1" y2="191.5" stroke="#b5123b" stroke-width="1"/>
<circle cx="433.5" cy="191.5" r="1.6" fill="#b5123b"/>
<text x="441.6" y="191.5" font-size="7" fill="#222" font-weight="normal" text-anchor="start" textLength="22" lengthAdjust="spacingAndGlyphs" dominant-baseline="central">Day −5</text>
<line x1="477.4" y1="191.5" x2="487.3" y2="191.5" stroke="#1b4568" stroke-width="1"/>
<circle cx="482" cy="191.5" r="1.6" fill="#1b4568"/>
<text x="490.5" y="191.5" font-size="7" fill="#222" font-weight="normal" text-anchor="start" textLength="18.5" lengthAdjust="spacingAndGlyphs" dominant-baseline="central">Day 0</text>
<line x1="43.5" y1="240.8" x2="48" y2="240" stroke="#333" stroke-width="0.55"/>
<line x1="43.5" y1="248.4" x2="48" y2="256" stroke="#333" stroke-width="0.55"/>
<line x1="43.5" y1="254.7" x2="48" y2="245.6" stroke="#333" stroke-width="0.55"/>
<line x1="43.5" y1="260.3" x2="48" y2="259.6" stroke="#333" stroke-width="0.55"/>
<line x1="43.5" y1="263" x2="48" y2="262.4" stroke="#333" stroke-width="0.55"/>
<line x1="43.5" y1="265" x2="48" y2="265" stroke="#333" stroke-width="0.55"/>
<line x1="43.5" y1="268" x2="48" y2="268.6" stroke="#333" stroke-width="0.55"/>
<line x1="43.5" y1="273.5" x2="48" y2="273.5" stroke="#333" stroke-width="0.55"/>
<line x1="55.22" y1="265" x2="59.72" y2="254.7" stroke="#333" stroke-width="0.55"/>
<line x1="55.22" y1="269.3" x2="59.72" y2="259.6" stroke="#333" stroke-width="0.55"/>
<line x1="55.22" y1="273.5" x2="59.72" y2="263.7" stroke="#333" stroke-width="0.55"/>
<line x1="55.22" y1="276.3" x2="59.72" y2="266.5" stroke="#333" stroke-width="0.55"/>
<line x1="55.22" y1="278.4" x2="59.72" y2="272" stroke="#333" stroke-width="0.55"/>
<line x1="55.22" y1="280.5" x2="59.72" y2="269.3" stroke="#333" stroke-width="0.55"/>
<line x1="55.22" y1="286.7" x2="59.72" y2="276.3" stroke="#333" stroke-width="0.55"/>
<line x1="66.94" y1="240.8" x2="71.44" y2="240" stroke="#333" stroke-width="0.55"/>
<line x1="66.94" y1="242.9" x2="71.44" y2="242.9" stroke="#333" stroke-width="0.55"/>
<line x1="66.94" y1="245.6" x2="71.44" y2="245.6" stroke="#333" stroke-width="0.55"/>
<line x1="66.94" y1="248.4" x2="71.44" y2="249.1" stroke="#333" stroke-width="0.55"/>
<line x1="66.94" y1="254" x2="71.44" y2="256.8" stroke="#333" stroke-width="0.55"/>
<line x1="66.94" y1="256.8" x2="71.44" y2="252.6" stroke="#333" stroke-width="0.55"/>
<line x1="66.94" y1="261" x2="71.44" y2="264.4" stroke="#333" stroke-width="0.55"/>
<line x1="66.94" y1="272" x2="71.44" y2="272" stroke="#333" stroke-width="0.55"/>
<line x1="78.66" y1="266.5" x2="83.16" y2="272" stroke="#333" stroke-width="0.55"/>
<line x1="78.66" y1="270.7" x2="83.16" y2="260.3" stroke="#333" stroke-width="0.55"/>
<line x1="78.66" y1="286" x2="83.16" y2="276.3" stroke="#333" stroke-width="0.55"/>
<line x1="90.38" y1="247.7" x2="94.88" y2="238.7" stroke="#333" stroke-width="0.55"/>
<line x1="90.38" y1="251.2" x2="94.88" y2="248.4" stroke="#333" stroke-width="0.55"/>
<line x1="90.38" y1="254" x2="94.88" y2="256.8" stroke="#333" stroke-width="0.55"/>
<line x1="90.38" y1="256.8" x2="94.88" y2="252.6" stroke="#333" stroke-width="0.55"/>
<line x1="90.38" y1="259.6" x2="94.88" y2="263.7" stroke="#333" stroke-width="0.55"/>
<line x1="90.38" y1="266.5" x2="94.88" y2="272" stroke="#333" stroke-width="0.55"/>
<line x1="102.1" y1="238.7" x2="106.6" y2="237.3" stroke="#333" stroke-width="0.55"/>
<line x1="102.1" y1="241.5" x2="106.6" y2="240" stroke="#333" stroke-width="0.55"/>
<line x1="102.1" y1="244.2" x2="106.6" y2="242.9" stroke="#333" stroke-width="0.55"/>
<line x1="102.1" y1="247" x2="106.6" y2="245.6" stroke="#333" stroke-width="0.55"/>
<line x1="102.1" y1="249.8" x2="106.6" y2="251.2" stroke="#333" stroke-width="0.55"/>
<line x1="102.1" y1="252.6" x2="106.6" y2="248.4" stroke="#333" stroke-width="0.55"/>
<line x1="102.1" y1="255.4" x2="106.6" y2="254.7" stroke="#333" stroke-width="0.55"/>
<line x1="113.82" y1="232.4" x2="118.32" y2="228.2" stroke="#333" stroke-width="0.55"/>
<line x1="113.82" y1="234.5" x2="118.32" y2="230.3" stroke="#333" stroke-width="0.55"/>
<line x1="113.82" y1="237.3" x2="118.32" y2="233.1" stroke="#333" stroke-width="0.55"/>
<line x1="113.82" y1="240" x2="118.32" y2="240" stroke="#333" stroke-width="0.55"/>
<line x1="113.82" y1="242.9" x2="118.32" y2="237.3" stroke="#333" stroke-width="0.55"/>
<line x1="113.82" y1="246.3" x2="118.32" y2="242.9" stroke="#333" stroke-width="0.55"/>
<line x1="113.82" y1="249.1" x2="118.32" y2="247" stroke="#333" stroke-width="0.55"/>
<line x1="113.82" y1="252.6" x2="118.32" y2="250.5" stroke="#333" stroke-width="0.55"/>
<line x1="125.54" y1="284" x2="130.04" y2="283.2" stroke="#333" stroke-width="0.55"/>
<line x1="125.54" y1="286" x2="130.04" y2="270.7" stroke="#333" stroke-width="0.55"/>
<line x1="125.54" y1="288.8" x2="130.04" y2="286" stroke="#333" stroke-width="0.55"/>
<line x1="125.54" y1="291.6" x2="130.04" y2="288.8" stroke="#333" stroke-width="0.55"/>
<line x1="125.54" y1="294.4" x2="130.04" y2="290.9" stroke="#333" stroke-width="0.55"/>
<line x1="137.26" y1="261.7" x2="141.76" y2="256" stroke="#333" stroke-width="0.55"/>
<line x1="137.26" y1="264.4" x2="141.76" y2="259.6" stroke="#333" stroke-width="0.55"/>
<line x1="137.26" y1="268" x2="141.76" y2="263.7" stroke="#333" stroke-width="0.55"/>
<line x1="137.26" y1="270.7" x2="141.76" y2="268" stroke="#333" stroke-width="0.55"/>
<line x1="137.26" y1="273.5" x2="141.76" y2="275.6" stroke="#333" stroke-width="0.55"/>
<line x1="137.26" y1="276.3" x2="141.76" y2="272" stroke="#333" stroke-width="0.55"/>
<line x1="137.26" y1="279.8" x2="141.76" y2="277.7" stroke="#333" stroke-width="0.55"/>
<line x1="148.98" y1="255.4" x2="153.48" y2="266.5" stroke="#333" stroke-width="0.55"/>
<line x1="148.98" y1="272" x2="153.48" y2="264.4" stroke="#333" stroke-width="0.55"/>
<line x1="148.98" y1="276.3" x2="153.48" y2="269.3" stroke="#333" stroke-width="0.55"/>
<line x1="148.98" y1="279" x2="153.48" y2="280.5" stroke="#333" stroke-width="0.55"/>
<line x1="148.98" y1="281.8" x2="153.48" y2="283.2" stroke="#333" stroke-width="0.55"/>
<line x1="148.98" y1="284.6" x2="153.48" y2="286" stroke="#333" stroke-width="0.55"/>
<line x1="148.98" y1="287.4" x2="153.48" y2="289.5" stroke="#333" stroke-width="0.55"/>
<line x1="148.98" y1="293" x2="153.48" y2="293.7" stroke="#333" stroke-width="0.55"/>
<line x1="172.42" y1="266.5" x2="176.92" y2="255.8" stroke="#333" stroke-width="0.55"/>
<line x1="172.42" y1="270.8" x2="176.92" y2="259.2" stroke="#333" stroke-width="0.55"/>
<line x1="172.42" y1="272.7" x2="176.92" y2="268.8" stroke="#333" stroke-width="0.55"/>
<line x1="172.42" y1="274.6" x2="176.92" y2="270.8" stroke="#333" stroke-width="0.55"/>
<line x1="172.42" y1="276.5" x2="176.92" y2="272.7" stroke="#333" stroke-width="0.55"/>
<line x1="172.42" y1="278.5" x2="176.92" y2="274.6" stroke="#333" stroke-width="0.55"/>
<line x1="172.42" y1="283.3" x2="176.92" y2="280.4" stroke="#333" stroke-width="0.55"/>
<line x1="172.42" y1="286" x2="176.92" y2="276.5" stroke="#333" stroke-width="0.55"/>
<line x1="184.14" y1="260.8" x2="188.64" y2="255.8" stroke="#333" stroke-width="0.55"/>
<line x1="184.14" y1="272.7" x2="188.64" y2="263" stroke="#333" stroke-width="0.55"/>
<line x1="184.14" y1="276.5" x2="188.64" y2="267.9" stroke="#333" stroke-width="0.55"/>
<line x1="184.14" y1="280.4" x2="188.64" y2="276.5" stroke="#333" stroke-width="0.55"/>
<line x1="184.14" y1="286" x2="188.64" y2="274.6" stroke="#333" stroke-width="0.55"/>
<line x1="207.58" y1="294.8" x2="212.08" y2="291" stroke="#333" stroke-width="0.55"/>
<line x1="219.3" y1="303" x2="223.8" y2="301.5" stroke="#333" stroke-width="0.55"/>
<line x1="231.02" y1="259.2" x2="235.52" y2="261.2" stroke="#333" stroke-width="0.55"/>
<line x1="231.02" y1="282.3" x2="235.52" y2="273.7" stroke="#333" stroke-width="0.55"/>
<line x1="231.02" y1="285.2" x2="235.52" y2="280.4" stroke="#333" stroke-width="0.55"/>
<line x1="231.02" y1="288" x2="235.52" y2="276.5" stroke="#333" stroke-width="0.55"/>
<line x1="231.02" y1="293.8" x2="235.52" y2="284.2" stroke="#333" stroke-width="0.55"/>
<line x1="242.74" y1="286.5" x2="247.24" y2="292.3" stroke="#333" stroke-width="0.55"/>
<line x1="254.46" y1="263" x2="258.96" y2="270.4" stroke="#333" stroke-width="0.55"/>
<line x1="254.46" y1="272.3" x2="258.96" y2="272.7" stroke="#333" stroke-width="0.55"/>
<line x1="254.46" y1="292" x2="258.96" y2="282.3" stroke="#333" stroke-width="0.55"/>
<line x1="254.46" y1="293.8" x2="258.96" y2="276.5" stroke="#333" stroke-width="0.55"/>
<line x1="266.18" y1="285.2" x2="270.68" y2="289" stroke="#333" stroke-width="0.55"/>
<line x1="266.18" y1="292" x2="270.68" y2="285.2" stroke="#333" stroke-width="0.55"/>
<line x1="266.18" y1="294.8" x2="270.68" y2="292" stroke="#333" stroke-width="0.55"/>
<line x1="266.18" y1="296.7" x2="270.68" y2="303.5" stroke="#333" stroke-width="0.55"/>
<line x1="277.9" y1="287" x2="282.4" y2="291" stroke="#333" stroke-width="0.55"/>
<line x1="277.9" y1="291" x2="282.4" y2="288" stroke="#333" stroke-width="0.55"/>
<line x1="277.9" y1="293.8" x2="282.4" y2="293.8" stroke="#333" stroke-width="0.55"/>
<line x1="277.9" y1="297.7" x2="282.4" y2="296.7" stroke="#333" stroke-width="0.55"/>
<line x1="289.62" y1="270.8" x2="294.12" y2="265.4" stroke="#333" stroke-width="0.55"/>
<line x1="289.62" y1="272.7" x2="294.12" y2="268.8" stroke="#333" stroke-width="0.55"/>
<line x1="289.62" y1="277.5" x2="294.12" y2="272.7" stroke="#333" stroke-width="0.55"/>
<line x1="289.62" y1="280.4" x2="294.12" y2="276.5" stroke="#333" stroke-width="0.55"/>
<line x1="289.62" y1="283.3" x2="294.12" y2="280.4" stroke="#333" stroke-width="0.55"/>
<line x1="289.62" y1="289" x2="294.12" y2="290" stroke="#333" stroke-width="0.55"/>
<line x1="289.62" y1="292" x2="294.12" y2="284.2" stroke="#333" stroke-width="0.55"/>
<line x1="289.62" y1="296.7" x2="294.12" y2="293.8" stroke="#333" stroke-width="0.55"/>
<line x1="301.34" y1="278.5" x2="305.84" y2="275" stroke="#333" stroke-width="0.55"/>
<line x1="301.34" y1="289" x2="305.84" y2="284.2" stroke="#333" stroke-width="0.55"/>
<line x1="301.34" y1="292.9" x2="305.84" y2="280.4" stroke="#333" stroke-width="0.55"/>
<line x1="301.34" y1="296.7" x2="305.84" y2="288" stroke="#333" stroke-width="0.55"/>
<line x1="313.06" y1="293.8" x2="317.56" y2="292" stroke="#333" stroke-width="0.55"/>
<line x1="313.06" y1="299.6" x2="317.56" y2="293.8" stroke="#333" stroke-width="0.55"/>
<line x1="324.78" y1="281.3" x2="329.28" y2="268.5" stroke="#333" stroke-width="0.55"/>
<line x1="336.5" y1="272.7" x2="341" y2="269.8" stroke="#333" stroke-width="0.55"/>
<line x1="336.5" y1="276.5" x2="341" y2="274.6" stroke="#333" stroke-width="0.55"/>
<line x1="336.5" y1="280.4" x2="341" y2="278.5" stroke="#333" stroke-width="0.55"/>
<line x1="336.5" y1="284.2" x2="341" y2="286.2" stroke="#333" stroke-width="0.55"/>
<line x1="336.5" y1="288" x2="341" y2="282.3" stroke="#333" stroke-width="0.55"/>
<line x1="348.22" y1="295.4" x2="352.72" y2="295.4" stroke="#333" stroke-width="0.55"/>
<line x1="371.66" y1="269.6" x2="376.16" y2="254.2" stroke="#333" stroke-width="0.55"/>
<line x1="371.66" y1="272.7" x2="376.16" y2="268.1" stroke="#333" stroke-width="0.55"/>
<line x1="371.66" y1="275.8" x2="376.16" y2="271.2" stroke="#333" stroke-width="0.55"/>
<line x1="371.66" y1="278.8" x2="376.16" y2="277.3" stroke="#333" stroke-width="0.55"/>
<line x1="371.66" y1="282.7" x2="376.16" y2="274.2" stroke="#333" stroke-width="0.55"/>
<line x1="383.38" y1="280.4" x2="387.88" y2="278" stroke="#333" stroke-width="0.55"/>
<line x1="383.38" y1="287.3" x2="387.88" y2="287.3" stroke="#333" stroke-width="0.55"/>
<line x1="383.38" y1="290.4" x2="387.88" y2="282.7" stroke="#333" stroke-width="0.55"/>
<line x1="383.38" y1="293.5" x2="387.88" y2="290.4" stroke="#333" stroke-width="0.55"/>
<line x1="383.38" y1="296.5" x2="387.88" y2="295" stroke="#333" stroke-width="0.55"/>
<line x1="395.1" y1="270.4" x2="399.6" y2="265" stroke="#333" stroke-width="0.55"/>
<line x1="395.1" y1="273.5" x2="399.6" y2="272.7" stroke="#333" stroke-width="0.55"/>
<line x1="395.1" y1="276.5" x2="399.6" y2="268.1" stroke="#333" stroke-width="0.55"/>
<line x1="395.1" y1="279.6" x2="399.6" y2="276.5" stroke="#333" stroke-width="0.55"/>
<line x1="395.1" y1="282.7" x2="399.6" y2="279.6" stroke="#333" stroke-width="0.55"/>
<line x1="406.82" y1="268.8" x2="411.32" y2="272" stroke="#333" stroke-width="0.55"/>
<line x1="406.82" y1="285.8" x2="411.32" y2="275" stroke="#333" stroke-width="0.55"/>
<line x1="418.54" y1="244.2" x2="423.04" y2="242.4" stroke="#333" stroke-width="0.55"/>
<line x1="418.54" y1="252.7" x2="423.04" y2="251.2" stroke="#333" stroke-width="0.55"/>
<line x1="418.54" y1="257.3" x2="423.04" y2="255" stroke="#333" stroke-width="0.55"/>
<line x1="418.54" y1="267.3" x2="423.04" y2="258.1" stroke="#333" stroke-width="0.55"/>
<line x1="418.54" y1="270.4" x2="423.04" y2="267.3" stroke="#333" stroke-width="0.55"/>
<line x1="418.54" y1="274.2" x2="423.04" y2="275" stroke="#333" stroke-width="0.55"/>
<line x1="418.54" y1="278" x2="423.04" y2="270.4" stroke="#333" stroke-width="0.55"/>
<line x1="441.98" y1="260" x2="446.48" y2="259.2" stroke="#333" stroke-width="0.55"/>
<line x1="441.98" y1="271" x2="446.48" y2="270.2" stroke="#333" stroke-width="0.55"/>
<line x1="441.98" y1="273" x2="446.48" y2="266.5" stroke="#333" stroke-width="0.55"/>
<line x1="441.98" y1="283.9" x2="446.48" y2="275.7" stroke="#333" stroke-width="0.55"/>
<line x1="441.98" y1="290.3" x2="446.48" y2="278.4" stroke="#333" stroke-width="0.55"/>
<line x1="441.98" y1="293" x2="446.48" y2="281.2" stroke="#333" stroke-width="0.55"/>
<line x1="441.98" y1="295.8" x2="446.48" y2="284.8" stroke="#333" stroke-width="0.55"/>
<line x1="453.7" y1="269.2" x2="458.2" y2="269.2" stroke="#333" stroke-width="0.55"/>
<line x1="453.7" y1="272.9" x2="458.2" y2="272.9" stroke="#333" stroke-width="0.55"/>
<line x1="453.7" y1="276.6" x2="458.2" y2="280.2" stroke="#333" stroke-width="0.55"/>
<line x1="453.7" y1="291.2" x2="458.2" y2="276.6" stroke="#333" stroke-width="0.55"/>
<line x1="465.42" y1="259.2" x2="469.92" y2="257.3" stroke="#333" stroke-width="0.55"/>
<line x1="465.42" y1="262.8" x2="469.92" y2="261.9" stroke="#333" stroke-width="0.55"/>
<line x1="465.42" y1="271" x2="469.92" y2="270.2" stroke="#333" stroke-width="0.55"/>
<line x1="465.42" y1="276.6" x2="469.92" y2="283.9" stroke="#333" stroke-width="0.55"/>
<line x1="465.42" y1="279.3" x2="469.92" y2="275.7" stroke="#333" stroke-width="0.55"/>
<line x1="477.14" y1="238.7" x2="481.64" y2="251.8" stroke="#333" stroke-width="0.55"/>
<line x1="477.14" y1="260" x2="481.64" y2="238.7" stroke="#333" stroke-width="0.55"/>
<line x1="477.14" y1="263.8" x2="481.64" y2="260" stroke="#333" stroke-width="0.55"/>
<line x1="477.14" y1="272.9" x2="481.64" y2="265.6" stroke="#333" stroke-width="0.55"/>
<line x1="477.14" y1="276.6" x2="481.64" y2="269.2" stroke="#333" stroke-width="0.55"/>
<line x1="477.14" y1="280.2" x2="481.64" y2="272.9" stroke="#333" stroke-width="0.55"/>
<line x1="488.86" y1="274.7" x2="493.36" y2="274.7" stroke="#333" stroke-width="0.55"/>
<line x1="488.86" y1="280.2" x2="493.36" y2="267.4" stroke="#333" stroke-width="0.55"/>
<line x1="488.86" y1="283.9" x2="493.36" y2="278.4" stroke="#333" stroke-width="0.55"/>
<line x1="488.86" y1="287.6" x2="493.36" y2="282" stroke="#333" stroke-width="0.55"/>
<line x1="488.86" y1="291.2" x2="493.36" y2="285.7" stroke="#333" stroke-width="0.55"/>
<line x1="488.86" y1="295.8" x2="493.36" y2="289.4" stroke="#333" stroke-width="0.55"/>
<line x1="512.3" y1="269.2" x2="516.8" y2="272" stroke="#333" stroke-width="0.55"/>
<line x1="512.3" y1="274.7" x2="516.8" y2="266.5" stroke="#333" stroke-width="0.55"/>
<line x1="512.3" y1="280.2" x2="516.8" y2="276.6" stroke="#333" stroke-width="0.55"/>
<line x1="512.3" y1="288.5" x2="516.8" y2="280.2" stroke="#333" stroke-width="0.55"/>
<circle cx="43.5" cy="240.8" r="1.75" fill="#b5123b"/>
<circle cx="43.5" cy="248.4" r="1.75" fill="#b5123b"/>
<circle cx="43.5" cy="254.7" r="1.75" fill="#b5123b"/>
<circle cx="43.5" cy="260.3" r="1.75" fill="#b5123b"/>
<circle cx="43.5" cy="263" r="1.75" fill="#b5123b"/>
<circle cx="43.5" cy="265" r="1.75" fill="#b5123b"/>
<circle cx="43.5" cy="268" r="1.75" fill="#b5123b"/>
<circle cx="43.5" cy="273.5" r="1.75" fill="#b5123b"/>
<circle cx="48" cy="240" r="1.75" fill="#1b4568"/>
<circle cx="48" cy="245.6" r="1.75" fill="#1b4568"/>
<circle cx="48" cy="256" r="1.75" fill="#1b4568"/>
<circle cx="48" cy="259.6" r="1.75" fill="#1b4568"/>
<circle cx="48" cy="262.4" r="1.75" fill="#1b4568"/>
<circle cx="48" cy="265" r="1.75" fill="#1b4568"/>
<circle cx="48" cy="268.6" r="1.75" fill="#1b4568"/>
<circle cx="48" cy="273.5" r="1.75" fill="#1b4568"/>
<circle cx="55.22" cy="265" r="1.75" fill="#b5123b"/>
<circle cx="55.22" cy="269.3" r="1.75" fill="#b5123b"/>
<circle cx="55.22" cy="273.5" r="1.75" fill="#b5123b"/>
<circle cx="55.22" cy="276.3" r="1.75" fill="#b5123b"/>
<circle cx="55.22" cy="278.4" r="1.75" fill="#b5123b"/>
<circle cx="55.22" cy="280.5" r="1.75" fill="#b5123b"/>
<circle cx="55.22" cy="286.7" r="1.75" fill="#b5123b"/>
<circle cx="59.72" cy="254.7" r="1.75" fill="#1b4568"/>
<circle cx="59.72" cy="259.6" r="1.75" fill="#1b4568"/>
<circle cx="59.72" cy="263.7" r="1.75" fill="#1b4568"/>
<circle cx="59.72" cy="266.5" r="1.75" fill="#1b4568"/>
<circle cx="59.72" cy="269.3" r="1.75" fill="#1b4568"/>
<circle cx="59.72" cy="272" r="1.75" fill="#1b4568"/>
<circle cx="59.72" cy="276.3" r="1.75" fill="#1b4568"/>
<circle cx="59.72" cy="283.2" r="1.75" fill="#1b4568"/>
<circle cx="59.72" cy="291.6" r="1.75" fill="#1b4568"/>
<circle cx="66.94" cy="240.8" r="1.75" fill="#b5123b"/>
<circle cx="66.94" cy="242.9" r="1.75" fill="#b5123b"/>
<circle cx="66.94" cy="245.6" r="1.75" fill="#b5123b"/>
<circle cx="66.94" cy="248.4" r="1.75" fill="#b5123b"/>
<circle cx="66.94" cy="254" r="1.75" fill="#b5123b"/>
<circle cx="66.94" cy="256.8" r="1.75" fill="#b5123b"/>
<circle cx="66.94" cy="261" r="1.75" fill="#b5123b"/>
<circle cx="66.94" cy="272" r="1.75" fill="#b5123b"/>
<circle cx="71.44" cy="240" r="1.75" fill="#1b4568"/>
<circle cx="71.44" cy="242.9" r="1.75" fill="#1b4568"/>
<circle cx="71.44" cy="245.6" r="1.75" fill="#1b4568"/>
<circle cx="71.44" cy="249.1" r="1.75" fill="#1b4568"/>
<circle cx="71.44" cy="252.6" r="1.75" fill="#1b4568"/>
<circle cx="71.44" cy="256.8" r="1.75" fill="#1b4568"/>
<circle cx="71.44" cy="264.4" r="1.75" fill="#1b4568"/>
<circle cx="71.44" cy="272" r="1.75" fill="#1b4568"/>
<circle cx="78.66" cy="266.5" r="1.75" fill="#b5123b"/>
<circle cx="78.66" cy="270.7" r="1.75" fill="#b5123b"/>
<circle cx="78.66" cy="286" r="1.75" fill="#b5123b"/>
<circle cx="83.16" cy="260.3" r="1.75" fill="#1b4568"/>
<circle cx="83.16" cy="272" r="1.75" fill="#1b4568"/>
<circle cx="83.16" cy="276.3" r="1.75" fill="#1b4568"/>
<circle cx="83.16" cy="280.5" r="1.75" fill="#1b4568"/>
<circle cx="83.16" cy="283.2" r="1.75" fill="#1b4568"/>
<circle cx="83.16" cy="286.7" r="1.75" fill="#1b4568"/>
<circle cx="90.38" cy="247.7" r="1.75" fill="#b5123b"/>
<circle cx="90.38" cy="251.2" r="1.75" fill="#b5123b"/>
<circle cx="90.38" cy="254" r="1.75" fill="#b5123b"/>
<circle cx="90.38" cy="256.8" r="1.75" fill="#b5123b"/>
<circle cx="90.38" cy="259.6" r="1.75" fill="#b5123b"/>
<circle cx="90.38" cy="266.5" r="1.75" fill="#b5123b"/>
<circle cx="90.38" cy="269.3" r="1.75" fill="#b5123b"/>
<circle cx="94.88" cy="238.7" r="1.75" fill="#1b4568"/>
<circle cx="94.88" cy="248.4" r="1.75" fill="#1b4568"/>
<circle cx="94.88" cy="252.6" r="1.75" fill="#1b4568"/>
<circle cx="94.88" cy="256.8" r="1.75" fill="#1b4568"/>
<circle cx="94.88" cy="263.7" r="1.75" fill="#1b4568"/>
<circle cx="94.88" cy="272" r="1.75" fill="#1b4568"/>
<circle cx="102.1" cy="238.7" r="1.75" fill="#b5123b"/>
<circle cx="102.1" cy="241.5" r="1.75" fill="#b5123b"/>
<circle cx="102.1" cy="244.2" r="1.75" fill="#b5123b"/>
<circle cx="102.1" cy="247" r="1.75" fill="#b5123b"/>
<circle cx="102.1" cy="249.8" r="1.75" fill="#b5123b"/>
<circle cx="102.1" cy="252.6" r="1.75" fill="#b5123b"/>
<circle cx="102.1" cy="255.4" r="1.75" fill="#b5123b"/>
<circle cx="102.1" cy="261.7" r="1.75" fill="#b5123b"/>
<circle cx="106.6" cy="237.3" r="1.75" fill="#1b4568"/>
<circle cx="106.6" cy="240" r="1.75" fill="#1b4568"/>
<circle cx="106.6" cy="242.9" r="1.75" fill="#1b4568"/>
<circle cx="106.6" cy="245.6" r="1.75" fill="#1b4568"/>
<circle cx="106.6" cy="248.4" r="1.75" fill="#1b4568"/>
<circle cx="106.6" cy="251.2" r="1.75" fill="#1b4568"/>
<circle cx="106.6" cy="254.7" r="1.75" fill="#1b4568"/>
<circle cx="113.82" cy="232.4" r="1.75" fill="#b5123b"/>
<circle cx="113.82" cy="234.5" r="1.75" fill="#b5123b"/>
<circle cx="113.82" cy="237.3" r="1.75" fill="#b5123b"/>
<circle cx="113.82" cy="240" r="1.75" fill="#b5123b"/>
<circle cx="113.82" cy="242.9" r="1.75" fill="#b5123b"/>
<circle cx="113.82" cy="246.3" r="1.75" fill="#b5123b"/>
<circle cx="113.82" cy="249.1" r="1.75" fill="#b5123b"/>
<circle cx="113.82" cy="252.6" r="1.75" fill="#b5123b"/>
<circle cx="113.82" cy="255.4" r="1.75" fill="#b5123b"/>
<circle cx="118.32" cy="228.2" r="1.75" fill="#1b4568"/>
<circle cx="118.32" cy="230.3" r="1.75" fill="#1b4568"/>
<circle cx="118.32" cy="233.1" r="1.75" fill="#1b4568"/>
<circle cx="118.32" cy="237.3" r="1.75" fill="#1b4568"/>
<circle cx="118.32" cy="240" r="1.75" fill="#1b4568"/>
<circle cx="118.32" cy="242.9" r="1.75" fill="#1b4568"/>
<circle cx="118.32" cy="247" r="1.75" fill="#1b4568"/>
<circle cx="118.32" cy="250.5" r="1.75" fill="#1b4568"/>
<circle cx="125.54" cy="284" r="1.75" fill="#b5123b"/>
<circle cx="125.54" cy="286" r="1.75" fill="#b5123b"/>
<circle cx="125.54" cy="288.8" r="1.75" fill="#b5123b"/>
<circle cx="125.54" cy="291.6" r="1.75" fill="#b5123b"/>
<circle cx="125.54" cy="294.4" r="1.75" fill="#b5123b"/>
<circle cx="130.04" cy="270.7" r="1.75" fill="#1b4568"/>
<circle cx="130.04" cy="283.2" r="1.75" fill="#1b4568"/>
<circle cx="130.04" cy="286" r="1.75" fill="#1b4568"/>
<circle cx="130.04" cy="288.8" r="1.75" fill="#1b4568"/>
<circle cx="130.04" cy="290.9" r="1.75" fill="#1b4568"/>
<circle cx="137.26" cy="261.7" r="1.75" fill="#b5123b"/>
<circle cx="137.26" cy="264.4" r="1.75" fill="#b5123b"/>
<circle cx="137.26" cy="268" r="1.75" fill="#b5123b"/>
<circle cx="137.26" cy="270.7" r="1.75" fill="#b5123b"/>
<circle cx="137.26" cy="273.5" r="1.75" fill="#b5123b"/>
<circle cx="137.26" cy="276.3" r="1.75" fill="#b5123b"/>
<circle cx="137.26" cy="279.8" r="1.75" fill="#b5123b"/>
<circle cx="137.26" cy="283.2" r="1.75" fill="#b5123b"/>
<circle cx="141.76" cy="256" r="1.75" fill="#1b4568"/>
<circle cx="141.76" cy="259.6" r="1.75" fill="#1b4568"/>
<circle cx="141.76" cy="263.7" r="1.75" fill="#1b4568"/>
<circle cx="141.76" cy="268" r="1.75" fill="#1b4568"/>
<circle cx="141.76" cy="272" r="1.75" fill="#1b4568"/>
<circle cx="141.76" cy="275.6" r="1.75" fill="#1b4568"/>
<circle cx="141.76" cy="277.7" r="1.75" fill="#1b4568"/>
<circle cx="148.98" cy="255.4" r="1.75" fill="#b5123b"/>
<circle cx="148.98" cy="272" r="1.75" fill="#b5123b"/>
<circle cx="148.98" cy="276.3" r="1.75" fill="#b5123b"/>
<circle cx="148.98" cy="279" r="1.75" fill="#b5123b"/>
<circle cx="148.98" cy="281.8" r="1.75" fill="#b5123b"/>
<circle cx="148.98" cy="284.6" r="1.75" fill="#b5123b"/>
<circle cx="148.98" cy="287.4" r="1.75" fill="#b5123b"/>
<circle cx="148.98" cy="293" r="1.75" fill="#b5123b"/>
<circle cx="153.48" cy="264.4" r="1.75" fill="#1b4568"/>
<circle cx="153.48" cy="266.5" r="1.75" fill="#1b4568"/>
<circle cx="153.48" cy="269.3" r="1.75" fill="#1b4568"/>
<circle cx="153.48" cy="280.5" r="1.75" fill="#1b4568"/>
<circle cx="153.48" cy="283.2" r="1.75" fill="#1b4568"/>
<circle cx="153.48" cy="286" r="1.75" fill="#1b4568"/>
<circle cx="153.48" cy="289.5" r="1.75" fill="#1b4568"/>
<circle cx="153.48" cy="293.7" r="1.75" fill="#1b4568"/>
<circle cx="172.42" cy="266.5" r="1.75" fill="#b5123b"/>
<circle cx="172.42" cy="270.8" r="1.75" fill="#b5123b"/>
<circle cx="172.42" cy="272.7" r="1.75" fill="#b5123b"/>
<circle cx="172.42" cy="274.6" r="1.75" fill="#b5123b"/>
<circle cx="172.42" cy="276.5" r="1.75" fill="#b5123b"/>
<circle cx="172.42" cy="278.5" r="1.75" fill="#b5123b"/>
<circle cx="172.42" cy="283.3" r="1.75" fill="#b5123b"/>
<circle cx="172.42" cy="286" r="1.75" fill="#b5123b"/>
<circle cx="176.92" cy="255.8" r="1.75" fill="#1b4568"/>
<circle cx="176.92" cy="259.2" r="1.75" fill="#1b4568"/>
<circle cx="176.92" cy="268.8" r="1.75" fill="#1b4568"/>
<circle cx="176.92" cy="270.8" r="1.75" fill="#1b4568"/>
<circle cx="176.92" cy="272.7" r="1.75" fill="#1b4568"/>
<circle cx="176.92" cy="274.6" r="1.75" fill="#1b4568"/>
<circle cx="176.92" cy="276.5" r="1.75" fill="#1b4568"/>
<circle cx="176.92" cy="280.4" r="1.75" fill="#1b4568"/>
<circle cx="184.14" cy="260.8" r="1.75" fill="#b5123b"/>
<circle cx="184.14" cy="272.7" r="1.75" fill="#b5123b"/>
<circle cx="184.14" cy="276.5" r="1.75" fill="#b5123b"/>
<circle cx="184.14" cy="280.4" r="1.75" fill="#b5123b"/>
<circle cx="184.14" cy="286" r="1.75" fill="#b5123b"/>
<circle cx="188.64" cy="255.8" r="1.75" fill="#1b4568"/>
<circle cx="188.64" cy="263" r="1.75" fill="#1b4568"/>
<circle cx="188.64" cy="267.9" r="1.75" fill="#1b4568"/>
<circle cx="188.64" cy="274.6" r="1.75" fill="#1b4568"/>
<circle cx="188.64" cy="276.5" r="1.75" fill="#1b4568"/>
<circle cx="188.64" cy="296.2" r="1.75" fill="#1b4568"/>
<circle cx="207.58" cy="294.8" r="1.75" fill="#b5123b"/>
<circle cx="212.08" cy="291" r="1.75" fill="#1b4568"/>
<circle cx="219.3" cy="303" r="1.75" fill="#b5123b"/>
<circle cx="223.8" cy="301.5" r="1.75" fill="#1b4568"/>
<circle cx="231.02" cy="259.2" r="1.75" fill="#b5123b"/>
<circle cx="231.02" cy="282.3" r="1.75" fill="#b5123b"/>
<circle cx="231.02" cy="285.2" r="1.75" fill="#b5123b"/>
<circle cx="231.02" cy="288" r="1.75" fill="#b5123b"/>
<circle cx="231.02" cy="293.8" r="1.75" fill="#b5123b"/>
<circle cx="235.52" cy="261.2" r="1.75" fill="#1b4568"/>
<circle cx="235.52" cy="273.7" r="1.75" fill="#1b4568"/>
<circle cx="235.52" cy="276.5" r="1.75" fill="#1b4568"/>
<circle cx="235.52" cy="280.4" r="1.75" fill="#1b4568"/>
<circle cx="235.52" cy="284.2" r="1.75" fill="#1b4568"/>
<circle cx="235.52" cy="288" r="1.75" fill="#1b4568"/>
<circle cx="235.52" cy="293.8" r="1.75" fill="#1b4568"/>
<circle cx="242.74" cy="286.5" r="1.75" fill="#b5123b"/>
<circle cx="242.74" cy="291" r="1.75" fill="#b5123b"/>
<circle cx="247.24" cy="292.3" r="1.75" fill="#1b4568"/>
<circle cx="254.46" cy="263" r="1.75" fill="#b5123b"/>
<circle cx="254.46" cy="272.3" r="1.75" fill="#b5123b"/>
<circle cx="254.46" cy="292" r="1.75" fill="#b5123b"/>
<circle cx="254.46" cy="293.8" r="1.75" fill="#b5123b"/>
<circle cx="258.96" cy="270.4" r="1.75" fill="#1b4568"/>
<circle cx="258.96" cy="272.7" r="1.75" fill="#1b4568"/>
<circle cx="258.96" cy="276.5" r="1.75" fill="#1b4568"/>
<circle cx="258.96" cy="282.3" r="1.75" fill="#1b4568"/>
<circle cx="258.96" cy="291" r="1.75" fill="#1b4568"/>
<circle cx="266.18" cy="285.2" r="1.75" fill="#b5123b"/>
<circle cx="266.18" cy="292" r="1.75" fill="#b5123b"/>
<circle cx="266.18" cy="294.8" r="1.75" fill="#b5123b"/>
<circle cx="266.18" cy="296.7" r="1.75" fill="#b5123b"/>
<circle cx="270.68" cy="285.2" r="1.75" fill="#1b4568"/>
<circle cx="270.68" cy="289" r="1.75" fill="#1b4568"/>
<circle cx="270.68" cy="292" r="1.75" fill="#1b4568"/>
<circle cx="270.68" cy="303.5" r="1.75" fill="#1b4568"/>
<circle cx="277.9" cy="287" r="1.75" fill="#b5123b"/>
<circle cx="277.9" cy="291" r="1.75" fill="#b5123b"/>
<circle cx="277.9" cy="293.8" r="1.75" fill="#b5123b"/>
<circle cx="277.9" cy="297.7" r="1.75" fill="#b5123b"/>
<circle cx="277.9" cy="302.5" r="1.75" fill="#b5123b"/>
<circle cx="282.4" cy="288" r="1.75" fill="#1b4568"/>
<circle cx="282.4" cy="291" r="1.75" fill="#1b4568"/>
<circle cx="282.4" cy="293.8" r="1.75" fill="#1b4568"/>
<circle cx="282.4" cy="296.7" r="1.75" fill="#1b4568"/>
<circle cx="289.62" cy="270.8" r="1.75" fill="#b5123b"/>
<circle cx="289.62" cy="272.7" r="1.75" fill="#b5123b"/>
<circle cx="289.62" cy="277.5" r="1.75" fill="#b5123b"/>
<circle cx="289.62" cy="280.4" r="1.75" fill="#b5123b"/>
<circle cx="289.62" cy="283.3" r="1.75" fill="#b5123b"/>
<circle cx="289.62" cy="289" r="1.75" fill="#b5123b"/>
<circle cx="289.62" cy="292" r="1.75" fill="#b5123b"/>
<circle cx="289.62" cy="296.7" r="1.75" fill="#b5123b"/>
<circle cx="294.12" cy="265.4" r="1.75" fill="#1b4568"/>
<circle cx="294.12" cy="268.8" r="1.75" fill="#1b4568"/>
<circle cx="294.12" cy="272.7" r="1.75" fill="#1b4568"/>
<circle cx="294.12" cy="276.5" r="1.75" fill="#1b4568"/>
<circle cx="294.12" cy="280.4" r="1.75" fill="#1b4568"/>
<circle cx="294.12" cy="284.2" r="1.75" fill="#1b4568"/>
<circle cx="294.12" cy="290" r="1.75" fill="#1b4568"/>
<circle cx="294.12" cy="293.8" r="1.75" fill="#1b4568"/>
<circle cx="301.34" cy="278.5" r="1.75" fill="#b5123b"/>
<circle cx="301.34" cy="289" r="1.75" fill="#b5123b"/>
<circle cx="301.34" cy="292.9" r="1.75" fill="#b5123b"/>
<circle cx="301.34" cy="296.7" r="1.75" fill="#b5123b"/>
<circle cx="305.84" cy="275" r="1.75" fill="#1b4568"/>
<circle cx="305.84" cy="280.4" r="1.75" fill="#1b4568"/>
<circle cx="305.84" cy="284.2" r="1.75" fill="#1b4568"/>
<circle cx="305.84" cy="288" r="1.75" fill="#1b4568"/>
<circle cx="305.84" cy="291" r="1.75" fill="#1b4568"/>
<circle cx="313.06" cy="293.8" r="1.75" fill="#b5123b"/>
<circle cx="313.06" cy="299.6" r="1.75" fill="#b5123b"/>
<circle cx="317.56" cy="292" r="1.75" fill="#1b4568"/>
<circle cx="317.56" cy="293.8" r="1.75" fill="#1b4568"/>
<circle cx="317.56" cy="295.8" r="1.75" fill="#1b4568"/>
<circle cx="324.78" cy="281.3" r="1.75" fill="#b5123b"/>
<circle cx="329.28" cy="268.5" r="1.75" fill="#1b4568"/>
<circle cx="329.28" cy="284.6" r="1.75" fill="#1b4568"/>
<circle cx="329.28" cy="290" r="1.75" fill="#1b4568"/>
<circle cx="329.28" cy="292.9" r="1.75" fill="#1b4568"/>
<circle cx="329.28" cy="295.8" r="1.75" fill="#1b4568"/>
<circle cx="336.5" cy="272.7" r="1.75" fill="#b5123b"/>
<circle cx="336.5" cy="276.5" r="1.75" fill="#b5123b"/>
<circle cx="336.5" cy="280.4" r="1.75" fill="#b5123b"/>
<circle cx="336.5" cy="284.2" r="1.75" fill="#b5123b"/>
<circle cx="336.5" cy="288" r="1.75" fill="#b5123b"/>
<circle cx="336.5" cy="292" r="1.75" fill="#b5123b"/>
<circle cx="336.5" cy="294.8" r="1.75" fill="#b5123b"/>
<circle cx="341" cy="269.8" r="1.75" fill="#1b4568"/>
<circle cx="341" cy="274.6" r="1.75" fill="#1b4568"/>
<circle cx="341" cy="278.5" r="1.75" fill="#1b4568"/>
<circle cx="341" cy="282.3" r="1.75" fill="#1b4568"/>
<circle cx="341" cy="286.2" r="1.75" fill="#1b4568"/>
<circle cx="348.22" cy="295.4" r="1.75" fill="#b5123b"/>
<circle cx="352.72" cy="295.4" r="1.75" fill="#1b4568"/>
<circle cx="371.66" cy="269.6" r="1.75" fill="#b5123b"/>
<circle cx="371.66" cy="272.7" r="1.75" fill="#b5123b"/>
<circle cx="371.66" cy="275.8" r="1.75" fill="#b5123b"/>
<circle cx="371.66" cy="278.8" r="1.75" fill="#b5123b"/>
<circle cx="371.66" cy="282.7" r="1.75" fill="#b5123b"/>
<circle cx="376.16" cy="254.2" r="1.75" fill="#1b4568"/>
<circle cx="376.16" cy="268.1" r="1.75" fill="#1b4568"/>
<circle cx="376.16" cy="271.2" r="1.75" fill="#1b4568"/>
<circle cx="376.16" cy="274.2" r="1.75" fill="#1b4568"/>
<circle cx="376.16" cy="277.3" r="1.75" fill="#1b4568"/>
<circle cx="383.38" cy="280.4" r="1.75" fill="#b5123b"/>
<circle cx="383.38" cy="287.3" r="1.75" fill="#b5123b"/>
<circle cx="383.38" cy="290.4" r="1.75" fill="#b5123b"/>
<circle cx="383.38" cy="293.5" r="1.75" fill="#b5123b"/>
<circle cx="383.38" cy="296.5" r="1.75" fill="#b5123b"/>
<circle cx="387.88" cy="278" r="1.75" fill="#1b4568"/>
<circle cx="387.88" cy="282.7" r="1.75" fill="#1b4568"/>
<circle cx="387.88" cy="287.3" r="1.75" fill="#1b4568"/>
<circle cx="387.88" cy="290.4" r="1.75" fill="#1b4568"/>
<circle cx="387.88" cy="295" r="1.75" fill="#1b4568"/>
<circle cx="395.1" cy="270.4" r="1.75" fill="#b5123b"/>
<circle cx="395.1" cy="273.5" r="1.75" fill="#b5123b"/>
<circle cx="395.1" cy="276.5" r="1.75" fill="#b5123b"/>
<circle cx="395.1" cy="279.6" r="1.75" fill="#b5123b"/>
<circle cx="395.1" cy="282.7" r="1.75" fill="#b5123b"/>
<circle cx="399.6" cy="265" r="1.75" fill="#1b4568"/>
<circle cx="399.6" cy="268.1" r="1.75" fill="#1b4568"/>
<circle cx="399.6" cy="272.7" r="1.75" fill="#1b4568"/>
<circle cx="399.6" cy="276.5" r="1.75" fill="#1b4568"/>
<circle cx="399.6" cy="279.6" r="1.75" fill="#1b4568"/>
<circle cx="399.6" cy="282.7" r="1.75" fill="#1b4568"/>
<circle cx="406.82" cy="268.8" r="1.75" fill="#b5123b"/>
<circle cx="406.82" cy="285.8" r="1.75" fill="#b5123b"/>
<circle cx="411.32" cy="272" r="1.75" fill="#1b4568"/>
<circle cx="411.32" cy="275" r="1.75" fill="#1b4568"/>
<circle cx="411.32" cy="282" r="1.75" fill="#1b4568"/>
<circle cx="418.54" cy="244.2" r="1.75" fill="#b5123b"/>
<circle cx="418.54" cy="252.7" r="1.75" fill="#b5123b"/>
<circle cx="418.54" cy="257.3" r="1.75" fill="#b5123b"/>
<circle cx="418.54" cy="267.3" r="1.75" fill="#b5123b"/>
<circle cx="418.54" cy="270.4" r="1.75" fill="#b5123b"/>
<circle cx="418.54" cy="274.2" r="1.75" fill="#b5123b"/>
<circle cx="418.54" cy="278" r="1.75" fill="#b5123b"/>
<circle cx="423.04" cy="242.4" r="1.75" fill="#1b4568"/>
<circle cx="423.04" cy="251.2" r="1.75" fill="#1b4568"/>
<circle cx="423.04" cy="255" r="1.75" fill="#1b4568"/>
<circle cx="423.04" cy="258.1" r="1.75" fill="#1b4568"/>
<circle cx="423.04" cy="267.3" r="1.75" fill="#1b4568"/>
<circle cx="423.04" cy="270.4" r="1.75" fill="#1b4568"/>
<circle cx="423.04" cy="275" r="1.75" fill="#1b4568"/>
<circle cx="423.04" cy="279.6" r="1.75" fill="#1b4568"/>
<circle cx="441.98" cy="260" r="1.75" fill="#b5123b"/>
<circle cx="441.98" cy="271" r="1.75" fill="#b5123b"/>
<circle cx="441.98" cy="273" r="1.75" fill="#b5123b"/>
<circle cx="441.98" cy="283.9" r="1.75" fill="#b5123b"/>
<circle cx="441.98" cy="290.3" r="1.75" fill="#b5123b"/>
<circle cx="441.98" cy="293" r="1.75" fill="#b5123b"/>
<circle cx="441.98" cy="295.8" r="1.75" fill="#b5123b"/>
<circle cx="446.48" cy="259.2" r="1.75" fill="#1b4568"/>
<circle cx="446.48" cy="266.5" r="1.75" fill="#1b4568"/>
<circle cx="446.48" cy="270.2" r="1.75" fill="#1b4568"/>
<circle cx="446.48" cy="275.7" r="1.75" fill="#1b4568"/>
<circle cx="446.48" cy="278.4" r="1.75" fill="#1b4568"/>
<circle cx="446.48" cy="281.2" r="1.75" fill="#1b4568"/>
<circle cx="446.48" cy="284.8" r="1.75" fill="#1b4568"/>
<circle cx="453.7" cy="269.2" r="1.75" fill="#b5123b"/>
<circle cx="453.7" cy="272.9" r="1.75" fill="#b5123b"/>
<circle cx="453.7" cy="276.6" r="1.75" fill="#b5123b"/>
<circle cx="453.7" cy="291.2" r="1.75" fill="#b5123b"/>
<circle cx="458.2" cy="269.2" r="1.75" fill="#1b4568"/>
<circle cx="458.2" cy="272.9" r="1.75" fill="#1b4568"/>
<circle cx="458.2" cy="276.6" r="1.75" fill="#1b4568"/>
<circle cx="458.2" cy="280.2" r="1.75" fill="#1b4568"/>
<circle cx="458.2" cy="293" r="1.75" fill="#1b4568"/>
<circle cx="458.2" cy="294.9" r="1.75" fill="#1b4568"/>
<circle cx="465.42" cy="259.2" r="1.75" fill="#b5123b"/>
<circle cx="465.42" cy="262.8" r="1.75" fill="#b5123b"/>
<circle cx="465.42" cy="271" r="1.75" fill="#b5123b"/>
<circle cx="465.42" cy="276.6" r="1.75" fill="#b5123b"/>
<circle cx="465.42" cy="279.3" r="1.75" fill="#b5123b"/>
<circle cx="469.92" cy="257.3" r="1.75" fill="#1b4568"/>
<circle cx="469.92" cy="261.9" r="1.75" fill="#1b4568"/>
<circle cx="469.92" cy="270.2" r="1.75" fill="#1b4568"/>
<circle cx="469.92" cy="275.7" r="1.75" fill="#1b4568"/>
<circle cx="469.92" cy="283.9" r="1.75" fill="#1b4568"/>
<circle cx="477.14" cy="238.7" r="1.75" fill="#b5123b"/>
<circle cx="477.14" cy="260" r="1.75" fill="#b5123b"/>
<circle cx="477.14" cy="263.8" r="1.75" fill="#b5123b"/>
<circle cx="477.14" cy="272.9" r="1.75" fill="#b5123b"/>
<circle cx="477.14" cy="276.6" r="1.75" fill="#b5123b"/>
<circle cx="477.14" cy="280.2" r="1.75" fill="#b5123b"/>
<circle cx="481.64" cy="238.7" r="1.75" fill="#1b4568"/>
<circle cx="481.64" cy="251.8" r="1.75" fill="#1b4568"/>
<circle cx="481.64" cy="260" r="1.75" fill="#1b4568"/>
<circle cx="481.64" cy="265.6" r="1.75" fill="#1b4568"/>
<circle cx="481.64" cy="269.2" r="1.75" fill="#1b4568"/>
<circle cx="481.64" cy="272.9" r="1.75" fill="#1b4568"/>
<circle cx="481.64" cy="277.5" r="1.75" fill="#1b4568"/>
<circle cx="481.64" cy="291.6" r="1.75" fill="#1b4568"/>
<circle cx="488.86" cy="274.7" r="1.75" fill="#b5123b"/>
<circle cx="488.86" cy="280.2" r="1.75" fill="#b5123b"/>
<circle cx="488.86" cy="283.9" r="1.75" fill="#b5123b"/>
<circle cx="488.86" cy="287.6" r="1.75" fill="#b5123b"/>
<circle cx="488.86" cy="291.2" r="1.75" fill="#b5123b"/>
<circle cx="488.86" cy="295.8" r="1.75" fill="#b5123b"/>
<circle cx="493.36" cy="267.4" r="1.75" fill="#1b4568"/>
<circle cx="493.36" cy="274.7" r="1.75" fill="#1b4568"/>
<circle cx="493.36" cy="278.4" r="1.75" fill="#1b4568"/>
<circle cx="493.36" cy="282" r="1.75" fill="#1b4568"/>
<circle cx="493.36" cy="285.7" r="1.75" fill="#1b4568"/>
<circle cx="493.36" cy="289.4" r="1.75" fill="#1b4568"/>
<circle cx="493.36" cy="291.2" r="1.75" fill="#1b4568"/>
<circle cx="505.08" cy="305.5" r="1.75" fill="#1b4568"/>
<circle cx="512.3" cy="269.2" r="1.75" fill="#b5123b"/>
<circle cx="512.3" cy="274.7" r="1.75" fill="#b5123b"/>
<circle cx="512.3" cy="280.2" r="1.75" fill="#b5123b"/>
<circle cx="512.3" cy="288.5" r="1.75" fill="#b5123b"/>
<circle cx="516.8" cy="266.5" r="1.75" fill="#1b4568"/>
<circle cx="516.8" cy="272" r="1.75" fill="#1b4568"/>
<circle cx="516.8" cy="276.6" r="1.75" fill="#1b4568"/>
<circle cx="516.8" cy="280.2" r="1.75" fill="#1b4568"/>
<circle cx="516.8" cy="283.9" r="1.75" fill="#1b4568"/>
<circle cx="56.9" cy="222.2" r="0.95" fill="#1a1a1a"/>
<line x1="53.4" y1="226.2" x2="60" y2="226.2" stroke="#1a1a1a" stroke-width="1.2"/>
<circle cx="101.75" cy="222.2" r="0.95" fill="#1a1a1a"/>
<circle cx="105.05" cy="222.2" r="0.95" fill="#1a1a1a"/>
<line x1="100.3" y1="226.2" x2="106.8" y2="226.2" stroke="#1a1a1a" stroke-width="1.2"/>
<circle cx="268" cy="222" r="0.95" fill="#1a1a1a"/>
<line x1="265.4" y1="226" x2="271" y2="226" stroke="#1a1a1a" stroke-width="1.2"/>
<circle cx="291.7" cy="222" r="0.95" fill="#1a1a1a"/>
<line x1="288.8" y1="226" x2="295.6" y2="226" stroke="#1a1a1a" stroke-width="1.2"/>
<circle cx="334.6" cy="222" r="0.95" fill="#1a1a1a"/>
<circle cx="337.9" cy="222" r="0.95" fill="#1a1a1a"/>
<circle cx="341.2" cy="222" r="0.95" fill="#1a1a1a"/>
<line x1="334" y1="226" x2="341.7" y2="226" stroke="#1a1a1a" stroke-width="1.2"/>
<circle cx="466.5" cy="222.5" r="0.95" fill="#1a1a1a"/>
<line x1="463.4" y1="226.5" x2="469.8" y2="226.5" stroke="#1a1a1a" stroke-width="1.2"/>
<text x="5.5" y="389.6" font-size="11.5" fill="#111" font-weight="bold" text-anchor="middle" dominant-baseline="central">C</text>
<line x1="38" y1="398.5" x2="38" y2="479.3" stroke="#1a1a1a" stroke-width="0.9"/>
<line x1="35.8" y1="479.3" x2="38" y2="479.3" stroke="#1a1a1a" stroke-width="0.9"/>
<text x="33.8" y="479.6" font-size="8.8" fill="#222" text-anchor="end" dominant-baseline="central">10<tspan font-size="4.6" dy="-2.7">3</tspan></text>
<line x1="35.8" y1="420.2" x2="38" y2="420.2" stroke="#1a1a1a" stroke-width="0.9"/>
<text x="33.8" y="420.5" font-size="8.8" fill="#222" text-anchor="end" dominant-baseline="central">10<tspan font-size="4.6" dy="-2.7">4</tspan></text>
<line x1="36.6" y1="461.51" x2="38" y2="461.51" stroke="#1a1a1a" stroke-width="0.6"/>
<line x1="36.6" y1="451.1" x2="38" y2="451.1" stroke="#1a1a1a" stroke-width="0.6"/>
<line x1="36.6" y1="443.72" x2="38" y2="443.72" stroke="#1a1a1a" stroke-width="0.6"/>
<line x1="36.6" y1="437.99" x2="38" y2="437.99" stroke="#1a1a1a" stroke-width="0.6"/>
<line x1="36.6" y1="433.31" x2="38" y2="433.31" stroke="#1a1a1a" stroke-width="0.6"/>
<line x1="36.6" y1="429.35" x2="38" y2="429.35" stroke="#1a1a1a" stroke-width="0.6"/>
<line x1="36.6" y1="425.93" x2="38" y2="425.93" stroke="#1a1a1a" stroke-width="0.6"/>
<line x1="36.6" y1="422.9" x2="38" y2="422.9" stroke="#1a1a1a" stroke-width="0.6"/>
<line x1="36.6" y1="402.41" x2="38" y2="402.41" stroke="#1a1a1a" stroke-width="0.6"/>
<line x1="38" y1="479.3" x2="106" y2="479.3" stroke="#1a1a1a" stroke-width="0.9"/>
<line x1="58.5" y1="479.3" x2="58.5" y2="481.5" stroke="#1a1a1a" stroke-width="0.8"/>
<line x1="89" y1="479.3" x2="89" y2="481.5" stroke="#1a1a1a" stroke-width="0.8"/>
<text x="58.7" y="491.3" font-size="7.6" fill="#222" font-weight="normal" text-anchor="middle" textLength="24.4" lengthAdjust="spacingAndGlyphs" dominant-baseline="central">Day −5</text>
<text x="89.7" y="491.3" font-size="7.6" fill="#222" font-weight="normal" text-anchor="middle" textLength="19.4" lengthAdjust="spacingAndGlyphs" dominant-baseline="central">Day 0</text>
<text transform="translate(10.8,446.9) rotate(-90)" font-size="9.2" fill="#222" font-weight="normal" text-anchor="middle" textLength="51" lengthAdjust="spacingAndGlyphs" dominant-baseline="central" stroke="#222" stroke-width="0.22">CytoSum (pg/mL)</text>
<circle cx="73" cy="392.2" r="0.95" fill="#1a1a1a"/>
<line x1="57" y1="396.2" x2="88" y2="396.2" stroke="#1a1a1a" stroke-width="1.2"/>
<line x1="58.7" y1="422.4" x2="89.4" y2="404.7" stroke="#111" stroke-width="1.0" stroke-dasharray="1.6,1"/>
<line x1="58.7" y1="424" x2="89.4" y2="410.8" stroke="#111" stroke-width="1.0" stroke-dasharray="1.6,1"/>
<line x1="58.7" y1="426.7" x2="89.4" y2="438.1" stroke="#111" stroke-width="1.0" stroke-dasharray="1.6,1"/>
<line x1="58.7" y1="428.9" x2="89.4" y2="433" stroke="#111" stroke-width="1.0" stroke-dasharray="1.6,1"/>
<line x1="58.7" y1="433.8" x2="89.4" y2="421.3" stroke="#111" stroke-width="1.0" stroke-dasharray="1.6,1"/>
<line x1="58.7" y1="436" x2="89.4" y2="416.4" stroke="#111" stroke-width="1.0" stroke-dasharray="1.6,1"/>
<line x1="58.7" y1="438" x2="89.4" y2="423.5" stroke="#111" stroke-width="1.0" stroke-dasharray="1.6,1"/>
<line x1="58.7" y1="440.2" x2="89.4" y2="418.6" stroke="#111" stroke-width="1.0" stroke-dasharray="1.6,1"/>
<line x1="58.7" y1="442.4" x2="89.4" y2="430" stroke="#111" stroke-width="1.0" stroke-dasharray="1.6,1"/>
<line x1="58.7" y1="444.6" x2="89.4" y2="435.5" stroke="#111" stroke-width="1.0" stroke-dasharray="1.6,1"/>
<line x1="58.7" y1="451.1" x2="89.4" y2="442.4" stroke="#111" stroke-width="1.0" stroke-dasharray="1.6,1"/>
<line x1="58.7" y1="468.4" x2="89.4" y2="446.8" stroke="#111" stroke-width="1.0" stroke-dasharray="1.6,1"/>
<line x1="58.7" y1="437" x2="89.4" y2="440.5" stroke="#111" stroke-width="1.0" stroke-dasharray="1.6,1"/>
<line x1="58.7" y1="439.5" x2="89.4" y2="444.6" stroke="#111" stroke-width="1.0" stroke-dasharray="1.6,1"/>
<circle cx="58.7" cy="422.4" r="2.4" fill="#1b4568"/>
<circle cx="58.7" cy="424" r="2.4" fill="#1b4568"/>
<circle cx="58.7" cy="426.7" r="2.4" fill="#b5123b"/>
<circle cx="58.7" cy="428.9" r="2.4" fill="#b5123b"/>
<circle cx="58.7" cy="433.8" r="2.4" fill="#1b4568"/>
<circle cx="58.7" cy="436" r="2.4" fill="#1b4568"/>
<circle cx="58.7" cy="438" r="2.4" fill="#1b4568"/>
<circle cx="58.7" cy="440.2" r="2.4" fill="#1b4568"/>
<circle cx="58.7" cy="442.4" r="2.4" fill="#1b4568"/>
<circle cx="58.7" cy="444.6" r="2.4" fill="#b5123b"/>
<circle cx="58.7" cy="451.1" r="2.4" fill="#b5123b"/>
<circle cx="58.7" cy="468.4" r="2.4" fill="#1b4568"/>
<circle cx="58.7" cy="437" r="2.4" fill="#1b4568"/>
<circle cx="58.7" cy="439.5" r="2.4" fill="#1b4568"/>
<circle cx="89.4" cy="404.7" r="2.4" fill="#b5123b"/>
<circle cx="89.4" cy="410.8" r="2.4" fill="#1b4568"/>
<circle cx="89.4" cy="438.1" r="2.4" fill="#1b4568"/>
<circle cx="89.4" cy="433" r="2.4" fill="#1b4568"/>
<circle cx="89.4" cy="421.3" r="2.4" fill="#1b4568"/>
<circle cx="89.4" cy="416.4" r="2.4" fill="#b5123b"/>
<circle cx="89.4" cy="423.5" r="2.4" fill="#1b4568"/>
<circle cx="89.4" cy="418.6" r="2.4" fill="#b5123b"/>
<circle cx="89.4" cy="430" r="2.4" fill="#1b4568"/>
<circle cx="89.4" cy="435.5" r="2.4" fill="#1b4568"/>
<circle cx="89.4" cy="442.4" r="2.4" fill="#1b4568"/>
<circle cx="89.4" cy="446.8" r="2.4" fill="#1b4568"/>
<circle cx="89.4" cy="440.5" r="2.4" fill="#1b4568"/>
<circle cx="89.4" cy="444.6" r="2.4" fill="#1b4568"/>
<circle cx="95.8" cy="457.8" r="2.1" fill="#b5123b"/>
<text x="101.2" y="457.8" font-size="7.6" fill="#222" font-weight="normal" text-anchor="start" textLength="25" lengthAdjust="spacingAndGlyphs" dominant-baseline="central">High dx</text>
<circle cx="95.8" cy="466.5" r="2.1" fill="#1b4568"/>
<text x="101.2" y="466.5" font-size="7.6" fill="#222" font-weight="normal" text-anchor="start" textLength="23.5" lengthAdjust="spacingAndGlyphs" dominant-baseline="central">Low dx</text>
<text x="139" y="389.8" font-size="11.5" fill="#111" font-weight="bold" text-anchor="middle" dominant-baseline="central">D</text>
<text x="236" y="391.5" font-size="8.6" fill="#222" font-weight="normal" text-anchor="middle" textLength="147" lengthAdjust="spacingAndGlyphs" dominant-baseline="central">PCA (log10 conc scaled to unit variance)</text>
<line x1="166.2" y1="402.5" x2="166.2" y2="479.2" stroke="#1a1a1a" stroke-width="0.9"/>
<line x1="164" y1="415" x2="166.2" y2="415" stroke="#1a1a1a" stroke-width="0.9"/>
<text x="161.4" y="415.3" font-size="7.9" fill="#222" font-weight="normal" text-anchor="end" dominant-baseline="central">0.2</text>
<line x1="164" y1="435.8" x2="166.2" y2="435.8" stroke="#1a1a1a" stroke-width="0.9"/>
<text x="161.4" y="436.1" font-size="7.9" fill="#222" font-weight="normal" text-anchor="end" dominant-baseline="central">0.0</text>
<line x1="164" y1="456.7" x2="166.2" y2="456.7" stroke="#1a1a1a" stroke-width="0.9"/>
<text x="161.4" y="457" font-size="7.9" fill="#222" font-weight="normal" text-anchor="end" dominant-baseline="central">−0.2</text>
<line x1="164" y1="478.6" x2="166.2" y2="478.6" stroke="#1a1a1a" stroke-width="0.9"/>
<text x="161.4" y="478.9" font-size="7.9" fill="#222" font-weight="normal" text-anchor="end" dominant-baseline="central">−0.4</text>
<line x1="166.2" y1="479.2" x2="306" y2="479.2" stroke="#1a1a1a" stroke-width="0.9"/>
<line x1="176.3" y1="479.2" x2="176.3" y2="481.4" stroke="#1a1a1a" stroke-width="0.9"/>
<text x="176.3" y="489.2" font-size="7.9" fill="#222" font-weight="normal" text-anchor="middle" dominant-baseline="central">−0.50</text>
<line x1="209" y1="479.2" x2="209" y2="481.4" stroke="#1a1a1a" stroke-width="0.9"/>
<text x="209" y="489.2" font-size="7.9" fill="#222" font-weight="normal" text-anchor="middle" dominant-baseline="central">−0.25</text>
<line x1="241.7" y1="479.2" x2="241.7" y2="481.4" stroke="#1a1a1a" stroke-width="0.9"/>
<text x="241.7" y="489.2" font-size="7.9" fill="#222" font-weight="normal" text-anchor="middle" dominant-baseline="central">0.00</text>
<line x1="274.4" y1="479.2" x2="274.4" y2="481.4" stroke="#1a1a1a" stroke-width="0.9"/>
<text x="274.4" y="489.2" font-size="7.9" fill="#222" font-weight="normal" text-anchor="middle" dominant-baseline="central">0.25</text>
<text x="235" y="501.3" font-size="9.2" fill="#222" font-weight="normal" text-anchor="middle" textLength="40.4" lengthAdjust="spacingAndGlyphs" dominant-baseline="central" stroke="#222" stroke-width="0.22">PC1 (32.73%)</text>
<text transform="translate(140,441.5) rotate(-90)" font-size="9.2" fill="#222" font-weight="normal" text-anchor="middle" textLength="41.7" lengthAdjust="spacingAndGlyphs" dominant-baseline="central" stroke="#222" stroke-width="0.22">PC2 (13.78%)</text>
<line x1="241.9" y1="435.7" x2="238" y2="427" stroke="#555" stroke-width="0.4"/>
<line x1="241.9" y1="435.7" x2="232" y2="427.5" stroke="#555" stroke-width="0.4"/>
<line x1="241.9" y1="435.7" x2="231" y2="430.4" stroke="#555" stroke-width="0.4"/>
<line x1="241.9" y1="435.7" x2="229" y2="435.2" stroke="#555" stroke-width="0.4"/>
<line x1="241.9" y1="435.7" x2="227" y2="440" stroke="#555" stroke-width="0.4"/>
<line x1="241.9" y1="435.7" x2="227" y2="443.4" stroke="#555" stroke-width="0.4"/>
<line x1="241.9" y1="435.7" x2="233" y2="447.2" stroke="#555" stroke-width="0.4"/>
<line x1="241.9" y1="435.7" x2="236.7" y2="451.5" stroke="#555" stroke-width="0.4"/>
<line x1="241.9" y1="435.7" x2="245" y2="465" stroke="#555" stroke-width="0.4"/>
<line x1="241.9" y1="435.7" x2="232" y2="455" stroke="#555" stroke-width="0.4"/>
<line x1="241.9" y1="435.7" x2="239" y2="458" stroke="#555" stroke-width="0.4"/>
<line x1="241.9" y1="435.7" x2="250" y2="470" stroke="#555" stroke-width="0.4"/>
<line x1="241.9" y1="435.7" x2="238" y2="430" stroke="#555" stroke-width="0.4"/>
<line x1="241.9" y1="435.7" x2="236" y2="438" stroke="#555" stroke-width="0.4"/>
<line x1="241.9" y1="435.7" x2="234" y2="445" stroke="#555" stroke-width="0.4"/>
<rect x="219" y="425.3" width="19.2" height="3.4" fill="#000" fill-opacity="0.3"/>
<text x="228.6" y="427" font-size="4.6" fill="#000" font-weight="bold" text-anchor="middle" textLength="19.2" lengthAdjust="spacingAndGlyphs" dominant-baseline="central">Fractalkine</text>
<rect x="217.5" y="428.9" width="13.5" height="3.4" fill="#000" fill-opacity="0.3"/>
<text x="224.25" y="430.6" font-size="4.6" fill="#000" font-weight="bold" text-anchor="middle" textLength="13.5" lengthAdjust="spacingAndGlyphs" dominant-baseline="central">GM-CSF</text>
<rect x="214.1" y="433.5" width="14.9" height="3.4" fill="#000" fill-opacity="0.3"/>
<text x="221.55" y="435.2" font-size="4.6" fill="#000" font-weight="bold" text-anchor="middle" textLength="14.9" lengthAdjust="spacingAndGlyphs" dominant-baseline="central">IL-15TNF</text>
<rect x="217" y="437.9" width="10.1" height="3.4" fill="#000" fill-opacity="0.3"/>
<text x="222.05" y="439.6" font-size="4.6" fill="#000" font-weight="bold" text-anchor="middle" textLength="10.1" lengthAdjust="spacingAndGlyphs" dominant-baseline="central">IL-6</text>
<rect x="216" y="441.7" width="11.1" height="3.4" fill="#000" fill-opacity="0.3"/>
<text x="221.55" y="443.4" font-size="4.6" fill="#000" font-weight="bold" text-anchor="middle" textLength="11.1" lengthAdjust="spacingAndGlyphs" dominant-baseline="central">Eotaxin</text>
<rect x="220.4" y="445.5" width="12.5" height="3.4" fill="#000" fill-opacity="0.3"/>
<text x="226.65" y="447.2" font-size="4.6" fill="#000" font-weight="bold" text-anchor="middle" textLength="12.5" lengthAdjust="spacingAndGlyphs" dominant-baseline="central">MIP-1β</text>
<rect x="218" y="428" width="12" height="17" fill="#000" fill-opacity="0.12"/>
<text x="224" y="412.5" font-size="4" fill="#222" font-weight="normal" text-anchor="middle" textLength="11" lengthAdjust="spacingAndGlyphs" dominant-baseline="central">Agb 1β</text>
<text x="225" y="418.4" font-size="4" fill="#222" font-weight="normal" text-anchor="middle" textLength="11" lengthAdjust="spacingAndGlyphs" dominant-baseline="central">IMDBB</text>
<text x="243.5" y="417" font-size="4" fill="#222" font-weight="normal" text-anchor="middle" textLength="11" lengthAdjust="spacingAndGlyphs" dominant-baseline="central">IL-7</text>
<text x="246" y="465" font-size="4" fill="#222" font-weight="normal" text-anchor="middle" textLength="11" lengthAdjust="spacingAndGlyphs" dominant-baseline="central">CD40L</text>
<path d="M172.4,421.6 L173.8,423.98 L171,423.98Z" fill="#a01c45"/>
<text x="172.4" y="426.6" font-size="4.4" fill="#d9436f" font-weight="normal" text-anchor="middle" textLength="8" lengthAdjust="spacingAndGlyphs" dominant-baseline="central" stroke-width="0.15" stroke="#d9436f">Pt21</text>
<path d="M203.8,422.4 L205.2,424.78 L202.4,424.78Z" fill="#a01c45"/>
<text x="203.8" y="427.4" font-size="4.4" fill="#d9436f" font-weight="normal" text-anchor="middle" textLength="8" lengthAdjust="spacingAndGlyphs" dominant-baseline="central" stroke-width="0.15" stroke="#d9436f">Pt21</text>
<path d="M218,410.1 L219.4,412.48 L216.6,412.48Z" fill="#a01c45"/>
<text x="218" y="415.1" font-size="4.4" fill="#d9436f" font-weight="normal" text-anchor="middle" textLength="8" lengthAdjust="spacingAndGlyphs" dominant-baseline="central" stroke-width="0.15" stroke="#d9436f">Pt02</text>
<path d="M225,414 L226.4,416.38 L223.6,416.38Z" fill="#a01c45"/>
<text x="225" y="419" font-size="4.4" fill="#d9436f" font-weight="normal" text-anchor="middle" textLength="8" lengthAdjust="spacingAndGlyphs" dominant-baseline="central" stroke-width="0.15" stroke="#d9436f">Pt05</text>
<path d="M234.7,413.6 L236.1,415.98 L233.3,415.98Z" fill="#a01c45"/>
<text x="234.7" y="418.6" font-size="4.4" fill="#d9436f" font-weight="normal" text-anchor="middle" textLength="8" lengthAdjust="spacingAndGlyphs" dominant-baseline="central" stroke-width="0.15" stroke="#d9436f">Pt10</text>
<path d="M248.8,407.1 L250.2,409.48 L247.4,409.48Z" fill="#a01c45"/>
<text x="248.8" y="412.1" font-size="4.4" fill="#d9436f" font-weight="normal" text-anchor="middle" textLength="8" lengthAdjust="spacingAndGlyphs" dominant-baseline="central" stroke-width="0.15" stroke="#d9436f">Pt12</text>
<path d="M262.3,404.9 L263.7,407.28 L260.9,407.28Z" fill="#a01c45"/>
<text x="262.3" y="409.9" font-size="4.4" fill="#d9436f" font-weight="normal" text-anchor="middle" textLength="8" lengthAdjust="spacingAndGlyphs" dominant-baseline="central" stroke-width="0.15" stroke="#d9436f">Pt06</text>
<path d="M264.5,407.4 L265.9,409.78 L263.1,409.78Z" fill="#a01c45"/>
<text x="264.5" y="412.4" font-size="4.4" fill="#d9436f" font-weight="normal" text-anchor="middle" textLength="8" lengthAdjust="spacingAndGlyphs" dominant-baseline="central" stroke-width="0.15" stroke="#d9436f">Pt08</text>
<path d="M266,409.1 L267.4,411.48 L264.6,411.48Z" fill="#a01c45"/>
<text x="266" y="414.1" font-size="4.4" fill="#d9436f" font-weight="normal" text-anchor="middle" textLength="8" lengthAdjust="spacingAndGlyphs" dominant-baseline="central" stroke-width="0.15" stroke="#d9436f">Pt09</text>
<path d="M254.7,444.4 L256.1,446.78 L253.3,446.78Z" fill="#a01c45"/>
<text x="254.7" y="449.4" font-size="4.4" fill="#d9436f" font-weight="normal" text-anchor="middle" textLength="8" lengthAdjust="spacingAndGlyphs" dominant-baseline="central" stroke-width="0.15" stroke="#d9436f">Pt07</text>
<path d="M231.9,450.1 L233.3,452.48 L230.5,452.48Z" fill="#a01c45"/>
<text x="231.9" y="455.1" font-size="4.4" fill="#d9436f" font-weight="normal" text-anchor="middle" textLength="8" lengthAdjust="spacingAndGlyphs" dominant-baseline="central" stroke-width="0.15" stroke="#d9436f">Pt01</text>
<path d="M228,453.6 L229.4,455.98 L226.6,455.98Z" fill="#a01c45"/>
<text x="228" y="458.6" font-size="4.4" fill="#d9436f" font-weight="normal" text-anchor="middle" textLength="8" lengthAdjust="spacingAndGlyphs" dominant-baseline="central" stroke-width="0.15" stroke="#d9436f">Pt09</text>
<path d="M259.6,410.3 L261,412.68 L258.2,412.68Z" fill="#173a5e"/>
<text x="259.6" y="415.3" font-size="4.4" fill="#2c6aa6" font-weight="normal" text-anchor="middle" textLength="8" lengthAdjust="spacingAndGlyphs" dominant-baseline="central" stroke-width="0.15" stroke="#2c6aa6">Pt11</text>
<path d="M274,415.1 L275.4,417.48 L272.6,417.48Z" fill="#173a5e"/>
<text x="274" y="420.1" font-size="4.4" fill="#2c6aa6" font-weight="normal" text-anchor="middle" textLength="8" lengthAdjust="spacingAndGlyphs" dominant-baseline="central" stroke-width="0.15" stroke="#2c6aa6">Pt12</text>
<path d="M301,429 L302.4,431.38 L299.6,431.38Z" fill="#173a5e"/>
<text x="301" y="434" font-size="4.4" fill="#2c6aa6" font-weight="normal" text-anchor="middle" textLength="8" lengthAdjust="spacingAndGlyphs" dominant-baseline="central" stroke-width="0.15" stroke="#2c6aa6">Pt13</text>
<path d="M247,424.8 L248.4,427.18 L245.6,427.18Z" fill="#173a5e"/>
<text x="247" y="429.8" font-size="4.4" fill="#2c6aa6" font-weight="normal" text-anchor="middle" textLength="8" lengthAdjust="spacingAndGlyphs" dominant-baseline="central" stroke-width="0.15" stroke="#2c6aa6">Pt11</text>
<path d="M262,442 L263.4,444.38 L260.6,444.38Z" fill="#173a5e"/>
<text x="262" y="447" font-size="4.4" fill="#2c6aa6" font-weight="normal" text-anchor="middle" textLength="8" lengthAdjust="spacingAndGlyphs" dominant-baseline="central" stroke-width="0.15" stroke="#2c6aa6">Pt08</text>
<path d="M201.2,451.6 L202.6,453.98 L199.8,453.98Z" fill="#173a5e"/>
<text x="201.2" y="456.6" font-size="4.4" fill="#2c6aa6" font-weight="normal" text-anchor="middle" textLength="8" lengthAdjust="spacingAndGlyphs" dominant-baseline="central" stroke-width="0.15" stroke="#2c6aa6">Pt08</text>
<path d="M224,451.1 L225.4,453.48 L222.6,453.48Z" fill="#173a5e"/>
<text x="224" y="456.1" font-size="4.4" fill="#2c6aa6" font-weight="normal" text-anchor="middle" textLength="8" lengthAdjust="spacingAndGlyphs" dominant-baseline="central" stroke-width="0.15" stroke="#2c6aa6">Pt02</text>
<path d="M229,455.6 L230.4,457.98 L227.6,457.98Z" fill="#173a5e"/>
<text x="229" y="460.6" font-size="4.4" fill="#2c6aa6" font-weight="normal" text-anchor="middle" textLength="8" lengthAdjust="spacingAndGlyphs" dominant-baseline="central" stroke-width="0.15" stroke="#2c6aa6">Pt05</text>
<path d="M236.5,461.6 L237.9,463.98 L235.1,463.98Z" fill="#173a5e"/>
<text x="236.5" y="466.6" font-size="4.4" fill="#2c6aa6" font-weight="normal" text-anchor="middle" textLength="8" lengthAdjust="spacingAndGlyphs" dominant-baseline="central" stroke-width="0.15" stroke="#2c6aa6">Pt04</text>
<path d="M250,452.1 L251.4,454.48 L248.6,454.48Z" fill="#173a5e"/>
<text x="250" y="457.1" font-size="4.4" fill="#2c6aa6" font-weight="normal" text-anchor="middle" textLength="8" lengthAdjust="spacingAndGlyphs" dominant-baseline="central" stroke-width="0.15" stroke="#2c6aa6">Pt03</text>
<path d="M254.5,456.1 L255.9,458.48 L253.1,458.48Z" fill="#173a5e"/>
<text x="254.5" y="461.1" font-size="4.4" fill="#2c6aa6" font-weight="normal" text-anchor="middle" textLength="8" lengthAdjust="spacingAndGlyphs" dominant-baseline="central" stroke-width="0.15" stroke="#2c6aa6">Pt02</text>
<path d="M270.4,461.6 L271.8,463.98 L269,463.98Z" fill="#173a5e"/>
<text x="270.4" y="466.6" font-size="4.4" fill="#2c6aa6" font-weight="normal" text-anchor="middle" textLength="8" lengthAdjust="spacingAndGlyphs" dominant-baseline="central" stroke-width="0.15" stroke="#2c6aa6">Pt03</text>
<path d="M248.8,470.6 L250.2,472.98 L247.4,472.98Z" fill="#173a5e"/>
<text x="248.8" y="475.6" font-size="4.4" fill="#2c6aa6" font-weight="normal" text-anchor="middle" textLength="8" lengthAdjust="spacingAndGlyphs" dominant-baseline="central" stroke-width="0.15" stroke="#2c6aa6">Pt0</text>
<text x="247" y="432.6" font-size="3.6" fill="#2c6aa6" font-weight="normal" text-anchor="middle" textLength="7" lengthAdjust="spacingAndGlyphs" dominant-baseline="central">Pt16</text>
<text x="420.5" y="391.5" font-size="8.6" fill="#222" font-weight="normal" text-anchor="middle" textLength="118" lengthAdjust="spacingAndGlyphs" dominant-baseline="central">PCA (unscaled to absolute conc)</text>
<line x1="352" y1="402.3" x2="352" y2="479.2" stroke="#1a1a1a" stroke-width="0.9"/>
<line x1="349.8" y1="404.9" x2="352" y2="404.9" stroke="#1a1a1a" stroke-width="0.9"/>
<text x="347.4" y="405.2" font-size="7.9" fill="#222" font-weight="normal" text-anchor="end" dominant-baseline="central">0.4</text>
<line x1="349.8" y1="422.7" x2="352" y2="422.7" stroke="#1a1a1a" stroke-width="0.9"/>
<text x="347.4" y="423" font-size="7.9" fill="#222" font-weight="normal" text-anchor="end" dominant-baseline="central">0.2</text>
<line x1="349.8" y1="440.5" x2="352" y2="440.5" stroke="#1a1a1a" stroke-width="0.9"/>
<text x="347.4" y="440.8" font-size="7.9" fill="#222" font-weight="normal" text-anchor="end" dominant-baseline="central">0.0</text>
<line x1="349.8" y1="458.3" x2="352" y2="458.3" stroke="#1a1a1a" stroke-width="0.9"/>
<text x="347.4" y="458.6" font-size="7.9" fill="#222" font-weight="normal" text-anchor="end" dominant-baseline="central">−0.2</text>
<line x1="349.8" y1="475.6" x2="352" y2="475.6" stroke="#1a1a1a" stroke-width="0.9"/>
<text x="347.4" y="475.9" font-size="7.9" fill="#222" font-weight="normal" text-anchor="end" dominant-baseline="central">−0.4</text>
<line x1="352" y1="479.2" x2="488.5" y2="479.2" stroke="#1a1a1a" stroke-width="0.9"/>
<line x1="353" y1="479.2" x2="353" y2="481.4" stroke="#1a1a1a" stroke-width="0.9"/>
<text x="353" y="488.5" font-size="7.9" fill="#222" font-weight="normal" text-anchor="middle" dominant-baseline="central">−0.5</text>
<line x1="379" y1="479.2" x2="379" y2="481.4" stroke="#1a1a1a" stroke-width="0.9"/>
<text x="379" y="488.5" font-size="7.9" fill="#222" font-weight="normal" text-anchor="middle" dominant-baseline="central">−0.4</text>
<line x1="404.7" y1="479.2" x2="404.7" y2="481.4" stroke="#1a1a1a" stroke-width="0.9"/>
<text x="404.7" y="488.5" font-size="7.9" fill="#222" font-weight="normal" text-anchor="middle" dominant-baseline="central">−0.3</text>
<line x1="430.8" y1="479.2" x2="430.8" y2="481.4" stroke="#1a1a1a" stroke-width="0.9"/>
<text x="430.8" y="488.5" font-size="7.9" fill="#222" font-weight="normal" text-anchor="middle" dominant-baseline="central">−0.2</text>
<line x1="456.9" y1="479.2" x2="456.9" y2="481.4" stroke="#1a1a1a" stroke-width="0.9"/>
<text x="456.9" y="488.5" font-size="7.9" fill="#222" font-weight="normal" text-anchor="middle" dominant-baseline="central">−0.1</text>
<line x1="482.8" y1="479.2" x2="482.8" y2="481.4" stroke="#1a1a1a" stroke-width="0.9"/>
<text x="482.8" y="488.5" font-size="7.9" fill="#222" font-weight="normal" text-anchor="middle" dominant-baseline="central">0.0</text>
<text x="426.2" y="501.5" font-size="9.2" fill="#222" font-weight="normal" text-anchor="middle" textLength="36.7" lengthAdjust="spacingAndGlyphs" dominant-baseline="central" stroke="#222" stroke-width="0.22">PC1 (82.9%)</text>
<text transform="translate(325.3,441.5) rotate(-90)" font-size="9.2" fill="#222" font-weight="normal" text-anchor="middle" textLength="33.6" lengthAdjust="spacingAndGlyphs" dominant-baseline="central" stroke="#222" stroke-width="0.22">PC2 (8.5%)</text>
<line x1="392" y1="428.6" x2="482.8" y2="440.6" stroke="#a9c6cf" stroke-width="0.6"/>
<text x="387.8" y="428" font-size="3.8" fill="#111" font-weight="normal" text-anchor="middle" textLength="8" lengthAdjust="spacingAndGlyphs" dominant-baseline="central">MCP-1</text>
<path d="M471.5,440.2 Q480,438.6 489.3,439.8 L489.3,442.2 Q480,443.2 471.5,441.6Z" fill="#0a0a0a"/>
<line x1="482.8" y1="440.6" x2="474" y2="436.5" stroke="#333" stroke-width="0.4"/>
<path d="M358.5,436.8 L359.9,439.18 L357.1,439.18Z" fill="#a01c45"/>
<text x="358.5" y="441.8" font-size="4.4" fill="#d9436f" font-weight="normal" text-anchor="middle" textLength="8" lengthAdjust="spacingAndGlyphs" dominant-baseline="central" stroke-width="0.15" stroke="#d9436f">Pt21</text>
<path d="M411.3,420.5 L412.7,422.88 L409.9,422.88Z" fill="#a01c45"/>
<text x="411.3" y="425.5" font-size="4.4" fill="#d9436f" font-weight="normal" text-anchor="middle" textLength="8" lengthAdjust="spacingAndGlyphs" dominant-baseline="central" stroke-width="0.15" stroke="#d9436f">Pt08</text>
<path d="M401.7,436.8 L403.1,439.18 L400.3,439.18Z" fill="#a01c45"/>
<text x="401.7" y="441.8" font-size="4.4" fill="#d9436f" font-weight="normal" text-anchor="middle" textLength="8" lengthAdjust="spacingAndGlyphs" dominant-baseline="central" stroke-width="0.15" stroke="#d9436f">Pt09</text>
<path d="M411.3,441.1 L412.7,443.48 L409.9,443.48Z" fill="#a01c45"/>
<text x="411.3" y="446.1" font-size="4.4" fill="#d9436f" font-weight="normal" text-anchor="middle" textLength="8" lengthAdjust="spacingAndGlyphs" dominant-baseline="central" stroke-width="0.15" stroke="#d9436f">Pt12</text>
<path d="M419.2,431.8 L420.6,434.18 L417.8,434.18Z" fill="#a01c45"/>
<text x="419.2" y="436.8" font-size="4.4" fill="#d9436f" font-weight="normal" text-anchor="middle" textLength="8" lengthAdjust="spacingAndGlyphs" dominant-baseline="central" stroke-width="0.15" stroke="#d9436f">Pt10</text>
<path d="M443,437.9 L444.4,440.28 L441.6,440.28Z" fill="#a01c45"/>
<text x="443" y="442.9" font-size="4.4" fill="#d9436f" font-weight="normal" text-anchor="middle" textLength="8" lengthAdjust="spacingAndGlyphs" dominant-baseline="central" stroke-width="0.15" stroke="#d9436f">Pt06</text>
<path d="M438,445.2 L439.4,447.58 L436.6,447.58Z" fill="#a01c45"/>
<text x="438" y="450.2" font-size="4.4" fill="#d9436f" font-weight="normal" text-anchor="middle" textLength="8" lengthAdjust="spacingAndGlyphs" dominant-baseline="central" stroke-width="0.15" stroke="#d9436f">Pt01</text>
<path d="M453.9,438.2 L455.3,440.58 L452.5,440.58Z" fill="#a01c45"/>
<text x="453.9" y="443.2" font-size="4.4" fill="#d9436f" font-weight="normal" text-anchor="middle" textLength="8" lengthAdjust="spacingAndGlyphs" dominant-baseline="central" stroke-width="0.15" stroke="#d9436f">Pt07</text>
<path d="M456.3,447.4 L457.7,449.78 L454.9,449.78Z" fill="#a01c45"/>
<text x="456.3" y="452.4" font-size="4.4" fill="#d9436f" font-weight="normal" text-anchor="middle" textLength="8" lengthAdjust="spacingAndGlyphs" dominant-baseline="central" stroke-width="0.15" stroke="#d9436f">Pt08</text>
<path d="M467.6,443.3 L469,445.68 L466.2,445.68Z" fill="#a01c45"/>
<text x="467.6" y="448.3" font-size="4.4" fill="#d9436f" font-weight="normal" text-anchor="middle" textLength="8" lengthAdjust="spacingAndGlyphs" dominant-baseline="central" stroke-width="0.15" stroke="#d9436f">Pt07</text>
<path d="M369.6,406.5 L371,408.88 L368.2,408.88Z" fill="#173a5e"/>
<text x="369.6" y="411.5" font-size="4.4" fill="#2c6aa6" font-weight="normal" text-anchor="middle" textLength="8" lengthAdjust="spacingAndGlyphs" dominant-baseline="central" stroke-width="0.15" stroke="#2c6aa6">Pt06</text>
<circle cx="435.6" cy="441.5" r="1.2" fill="#173a5e"/>
<text x="435.6" y="445.1" font-size="4.4" fill="#2c6aa6" font-weight="normal" text-anchor="middle" textLength="8" lengthAdjust="spacingAndGlyphs" dominant-baseline="central" stroke-width="0.15" stroke="#2c6aa6">Pt17</text>
<circle cx="457" cy="439.3" r="1.2" fill="#173a5e"/>
<text x="457" y="442.9" font-size="4.4" fill="#2c6aa6" font-weight="normal" text-anchor="middle" textLength="8" lengthAdjust="spacingAndGlyphs" dominant-baseline="central" stroke-width="0.15" stroke="#2c6aa6">Pt07</text>
<circle cx="455.8" cy="444.7" r="1.2" fill="#173a5e"/>
<text x="455.8" y="448.3" font-size="4.4" fill="#2c6aa6" font-weight="normal" text-anchor="middle" textLength="8" lengthAdjust="spacingAndGlyphs" dominant-baseline="central" stroke-width="0.15" stroke="#2c6aa6">Pt11</text>
<circle cx="475.9" cy="444.7" r="1.2" fill="#173a5e"/>
<text x="475.9" y="448.3" font-size="4.4" fill="#2c6aa6" font-weight="normal" text-anchor="middle" textLength="8" lengthAdjust="spacingAndGlyphs" dominant-baseline="central" stroke-width="0.15" stroke="#2c6aa6">Pt13</text>
<path d="M458.5,456.1 L459.9,458.48 L457.1,458.48Z" fill="#173a5e"/>
<text x="458.5" y="461.1" font-size="4.4" fill="#2c6aa6" font-weight="normal" text-anchor="middle" textLength="8" lengthAdjust="spacingAndGlyphs" dominant-baseline="central" stroke-width="0.15" stroke="#2c6aa6">Pt03</text>
<path d="M469.1,456.1 L470.5,458.48 L467.7,458.48Z" fill="#173a5e"/>
<text x="469.1" y="461.1" font-size="4.4" fill="#2c6aa6" font-weight="normal" text-anchor="middle" textLength="8" lengthAdjust="spacingAndGlyphs" dominant-baseline="central" stroke-width="0.15" stroke="#2c6aa6">Pt02</text>
<circle cx="469.1" cy="461.8" r="1.2" fill="#173a5e"/>
<text x="469.1" y="465.4" font-size="4.4" fill="#2c6aa6" font-weight="normal" text-anchor="middle" textLength="8" lengthAdjust="spacingAndGlyphs" dominant-baseline="central" stroke-width="0.15" stroke="#2c6aa6">Pt02</text>
<path d="M434.7,461.6 L436.1,463.98 L433.3,463.98Z" fill="#173a5e"/>
<text x="434.7" y="466.6" font-size="4.4" fill="#2c6aa6" font-weight="normal" text-anchor="middle" textLength="8" lengthAdjust="spacingAndGlyphs" dominant-baseline="central" stroke-width="0.15" stroke="#2c6aa6">Pt08</text>
<path d="M458,462.9 L459.4,465.28 L456.6,465.28Z" fill="#173a5e"/>
<text x="458" y="467.9" font-size="4.4" fill="#2c6aa6" font-weight="normal" text-anchor="middle" textLength="8" lengthAdjust="spacingAndGlyphs" dominant-baseline="central" stroke-width="0.15" stroke="#2c6aa6">Pt05</text>
<path d="M454,468.6 L455.4,470.98 L452.6,470.98Z" fill="#173a5e"/>
<text x="454" y="473.6" font-size="4.4" fill="#2c6aa6" font-weight="normal" text-anchor="middle" textLength="8" lengthAdjust="spacingAndGlyphs" dominant-baseline="central" stroke-width="0.15" stroke="#2c6aa6">Pt04</text>
<path d="M460,468.1 L461.4,470.48 L458.6,470.48Z" fill="#173a5e"/>
<text x="460" y="473.1" font-size="4.4" fill="#2c6aa6" font-weight="normal" text-anchor="middle" textLength="8" lengthAdjust="spacingAndGlyphs" dominant-baseline="central" stroke-width="0.15" stroke="#2c6aa6">Pt09</text>
<path d="M465,469.1 L466.4,471.48 L463.6,471.48Z" fill="#173a5e"/>
<text x="465" y="474.1" font-size="4.4" fill="#2c6aa6" font-weight="normal" text-anchor="middle" textLength="8" lengthAdjust="spacingAndGlyphs" dominant-baseline="central" stroke-width="0.15" stroke="#2c6aa6">Pt14</text>
<circle cx="457" cy="474" r="1.2" fill="#173a5e"/>
<text x="457" y="477.6" font-size="4.4" fill="#2c6aa6" font-weight="normal" text-anchor="middle" textLength="8" lengthAdjust="spacingAndGlyphs" dominant-baseline="central" stroke-width="0.15" stroke="#2c6aa6">Pt15</text>
<circle cx="463" cy="474.5" r="1.2" fill="#173a5e"/>
<text x="463" y="478.1" font-size="4.4" fill="#2c6aa6" font-weight="normal" text-anchor="middle" textLength="8" lengthAdjust="spacingAndGlyphs" dominant-baseline="central" stroke-width="0.15" stroke="#2c6aa6">Pt16</text>
<text x="478.5" y="449" font-size="3.6" fill="#222" font-weight="normal" text-anchor="middle" textLength="9" lengthAdjust="spacingAndGlyphs" dominant-baseline="central">SCD40L</text>
<text x="476" y="452.5" font-size="3.6" fill="#222" font-weight="normal" text-anchor="middle" textLength="6" lengthAdjust="spacingAndGlyphs" dominant-baseline="central">EGC</text>
<text x="480" y="443.8" font-size="3.6" fill="#222" font-weight="normal" text-anchor="middle" textLength="8" lengthAdjust="spacingAndGlyphs" dominant-baseline="central">FGF-2</text>
<circle cx="492.1" cy="401.7" r="1.5" fill="#a01c45"/>
<text x="496" y="401.7" font-size="7.6" fill="#222" font-weight="normal" text-anchor="start" textLength="26" lengthAdjust="spacingAndGlyphs" dominant-baseline="central">High dx</text>
<circle cx="492.1" cy="408.8" r="1.5" fill="#2d6c9a"/>
<text x="496" y="408.8" font-size="7.6" fill="#222" font-weight="normal" text-anchor="start" textLength="24" lengthAdjust="spacingAndGlyphs" dominant-baseline="central">Low dx</text>
<circle cx="492.1" cy="419.8" r="1.5" fill="#111"/>
<text x="496" y="419.8" font-size="7.6" fill="#222" font-weight="normal" text-anchor="start" textLength="24" lengthAdjust="spacingAndGlyphs" dominant-baseline="central">Day −5</text>
<path d="M492.1,424.7 L493.8,427.59 L490.4,427.59Z" fill="#111"/>
<text x="496" y="426.2" font-size="7.6" fill="#222" font-weight="normal" text-anchor="start" textLength="19.5" lengthAdjust="spacingAndGlyphs" dominant-baseline="central">Day 0</text>
<text x="4.1" y="508.9" font-size="11.5" fill="#111" font-weight="bold" text-anchor="middle" dominant-baseline="central">E</text>
<text x="201.7" y="519.5" font-size="7.5" fill="#222" font-weight="normal" text-anchor="start" textLength="67.7" lengthAdjust="spacingAndGlyphs" dominant-baseline="central">CRS and/or carHLH:</text>
<rect x="273" y="516.6" width="6.8" height="5.6" fill="#f2c4c4"/>
<line x1="273" y1="519.4" x2="279.8" y2="519.4" stroke="#b01a3e" stroke-width="1"/>
<text x="283" y="519.5" font-size="7.5" fill="#222" font-weight="normal" text-anchor="start" textLength="11.6" lengthAdjust="spacingAndGlyphs" dominant-baseline="central">Yes</text>
<rect x="300.8" y="516.6" width="6.8" height="5.6" fill="#bcc6df"/>
<line x1="300.8" y1="519.4" x2="307.6" y2="519.4" stroke="#1b4a70" stroke-width="1"/>
<text x="310" y="519.5" font-size="7.5" fill="#222" font-weight="normal" text-anchor="start" textLength="8.6" lengthAdjust="spacingAndGlyphs" dominant-baseline="central">No</text>
<line x1="32.7" y1="527" x2="32.7" y2="654.4" stroke="#1a1a1a" stroke-width="0.9"/>
<line x1="29.7" y1="530.8" x2="32.7" y2="530.8" stroke="#1a1a1a" stroke-width="0.9"/>
<text x="27.2" y="531.1" font-size="7.9" fill="#222" font-weight="normal" text-anchor="end" dominant-baseline="central">4.6</text>
<line x1="29.7" y1="552.3" x2="32.7" y2="552.3" stroke="#1a1a1a" stroke-width="0.9"/>
<text x="27.2" y="552.6" font-size="7.9" fill="#222" font-weight="normal" text-anchor="end" dominant-baseline="central">4.4</text>
<line x1="29.7" y1="573.7" x2="32.7" y2="573.7" stroke="#1a1a1a" stroke-width="0.9"/>
<text x="27.2" y="574" font-size="7.9" fill="#222" font-weight="normal" text-anchor="end" dominant-baseline="central">4.2</text>
<line x1="29.7" y1="594.8" x2="32.7" y2="594.8" stroke="#1a1a1a" stroke-width="0.9"/>
<text x="27.2" y="595.1" font-size="7.9" fill="#222" font-weight="normal" text-anchor="end" dominant-baseline="central">4.0</text>
<line x1="29.7" y1="616.3" x2="32.7" y2="616.3" stroke="#1a1a1a" stroke-width="0.9"/>
<text x="27.2" y="616.6" font-size="7.9" fill="#222" font-weight="normal" text-anchor="end" dominant-baseline="central">3.8</text>
<line x1="29.7" y1="637.7" x2="32.7" y2="637.7" stroke="#1a1a1a" stroke-width="0.9"/>
<text x="27.2" y="638" font-size="7.9" fill="#222" font-weight="normal" text-anchor="end" dominant-baseline="central">3.6</text>
<line x1="32.7" y1="654.4" x2="242" y2="654.4" stroke="#1a1a1a" stroke-width="0.9"/>
<line x1="82.3" y1="654.4" x2="82.3" y2="656.6" stroke="#1a1a1a" stroke-width="0.9"/>
<text x="82.3" y="664" font-size="7.6" fill="#222" font-weight="normal" text-anchor="middle" dominant-baseline="central">0</text>
<line x1="133" y1="654.4" x2="133" y2="656.6" stroke="#1a1a1a" stroke-width="0.9"/>
<text x="133" y="664" font-size="7.6" fill="#222" font-weight="normal" text-anchor="middle" dominant-baseline="central">10</text>
<line x1="183" y1="654.4" x2="183" y2="656.6" stroke="#1a1a1a" stroke-width="0.9"/>
<text x="183" y="664" font-size="7.6" fill="#222" font-weight="normal" text-anchor="middle" dominant-baseline="central">20</text>
<line x1="232.5" y1="654.4" x2="232.5" y2="656.6" stroke="#1a1a1a" stroke-width="0.9"/>
<text x="232.5" y="664" font-size="7.6" fill="#222" font-weight="normal" text-anchor="middle" dominant-baseline="central">30</text>
<text x="136.9" y="676.3" font-size="9.2" fill="#222" font-weight="normal" text-anchor="middle" textLength="84.6" lengthAdjust="spacingAndGlyphs" dominant-baseline="central" stroke="#222" stroke-width="0.22">Days post CAR T cell infusion</text>
<text transform="translate(5.1,591) rotate(-90)" font-size="9.2" fill="#222" font-weight="normal" text-anchor="middle" textLength="45.5" lengthAdjust="spacingAndGlyphs" dominant-baseline="central" stroke="#222" stroke-width="0.22">log10(CytoSum)</text>
<path d="M42.4,600.2 C43.32,600.7 45.33,601.55 47.9,603.2 C50.47,604.85 54.17,608.45 57.8,610.1 C61.43,611.75 65.4,612.77 69.7,613.1 C74,613.43 79.32,613.08 83.6,612.1 C87.88,611.12 91.45,608.52 95.4,607.2 C99.35,605.88 103.33,604.37 107.3,604.2 C111.27,604.03 114.58,604.58 119.2,606.2 C123.82,607.82 130.25,611.92 135,613.9 C139.75,615.88 142.42,616.7 147.7,618.1 C152.98,619.5 160,621.6 166.7,622.3 C173.4,623 180.85,623 187.9,622.3 C194.95,621.6 201.42,620.57 209,618.1 C216.58,615.63 229.33,609.27 233.4,607.5 L233.4,643.5 C227.58,643.5 207.85,643.5 198.5,643.5 C189.15,643.5 184.35,644.03 177.3,643.5 C170.25,642.97 162.42,641.9 156.2,640.3 C149.98,638.7 145.18,635.78 140,633.9 C134.82,632.02 129.88,630.32 125.1,629 C120.32,627.68 115.58,626.67 111.3,626 C107.02,625.33 104.02,624.5 99.4,625 C94.78,625.5 88.55,628.17 83.6,629 C78.65,629.83 74,629.35 69.7,630 C65.4,630.65 61.43,631.42 57.8,632.9 C54.17,634.38 50.47,637.08 47.9,638.9 C45.33,640.72 43.32,642.98 42.4,643.8Z" fill="#6f88bf" fill-opacity="0.36"/>
<path d="M57.4,581.4 C58.13,582.07 60.08,584.23 61.8,585.4 C63.52,586.57 65.72,588.07 67.7,588.4 C69.68,588.73 71.05,588.73 73.7,587.4 C76.35,586.07 79.98,584.2 83.6,580.4 C87.22,576.6 91.45,569.87 95.4,564.6 C99.35,559.33 103.33,553.58 107.3,548.8 C111.27,544.02 116.23,538.55 119.2,535.9 C122.17,533.25 122.47,533.22 125.1,532.9 C127.73,532.58 131.23,533.9 135,534 C138.77,534.1 143.47,533.07 147.7,533.5 C151.93,533.93 155.47,534.67 160.4,536.6 C165.33,538.53 171.67,542.27 177.3,545.1 C182.93,547.93 189.27,551.48 194.2,553.6 C199.13,555.72 203.37,557.45 206.9,557.8 C210.43,558.15 212.75,556.77 215.4,555.7 C218.05,554.63 221.57,552.12 222.8,551.4 L222.8,635 C221.57,633.23 218.05,627.57 215.4,624.4 C212.75,621.23 210.43,618.47 206.9,616 C203.37,613.53 199.13,611.55 194.2,609.6 C189.27,607.65 182.93,606.23 177.3,604.3 C171.67,602.37 165.33,599.93 160.4,598 C155.47,596.07 150.88,594.65 147.7,592.7 C144.52,590.75 143.42,587.72 141.3,586.3 C139.18,584.88 137.03,584.35 135,584.2 C132.97,584.05 131.73,583.88 129.1,585.4 C126.47,586.92 123.17,590 119.2,593.3 C115.23,596.6 110.25,602.4 105.3,605.2 C100.35,608 94.45,607.97 89.5,610.1 C84.55,612.23 79.23,614.68 75.6,618 C71.97,621.32 70,626.03 67.7,630 C65.4,633.97 63.52,638.83 61.8,641.8 C60.08,644.77 58.13,646.8 57.4,647.8Z" fill="#e0787a" fill-opacity="0.36"/>
<path d="M42.4,622 C44.97,622.07 50.93,622.73 57.8,622.4 C64.67,622.07 77.33,620.98 83.6,620 C89.87,619.02 91.78,617.42 95.4,616.5 C99.02,615.58 102.32,614.57 105.3,614.5 C108.28,614.43 110,615.18 113.3,616.1 C116.6,617.02 121.48,618.78 125.1,620 C128.72,621.22 129.82,621.6 135,623.4 C140.18,625.2 149.15,629.22 156.2,630.8 C163.25,632.38 170.25,632.73 177.3,632.9 C184.35,633.07 191.45,632.5 198.5,631.8 C205.55,631.1 213.78,629.75 219.6,628.7 C225.42,627.65 231.1,626.03 233.4,625.5" fill="none" stroke="#1b4a70" stroke-width="1.3" stroke-linecap="round"/>
<path d="M57.4,614.7 C59.45,613.78 65.33,611.65 69.7,609.2 C74.07,606.75 78.65,604.2 83.6,600 C88.55,595.8 94.78,588.95 99.4,584 C104.02,579.05 108,574.05 111.3,570.3 C114.6,566.55 116.9,563.45 119.2,561.5 C121.5,559.55 123.13,559.17 125.1,558.6 C127.07,558.03 127.62,557.55 131,558.1 C134.38,558.65 138.42,559.5 145.4,561.9 C152.38,564.3 164.8,569.15 172.9,572.5 C181,575.85 185.72,578.3 194,582 C202.28,585.7 217.83,592.58 222.6,594.7" fill="none" stroke="#b01a3e" stroke-width="1.3" stroke-linecap="round"/>
<line x1="276.6" y1="538.5" x2="276.6" y2="584.1" stroke="#1a1a1a" stroke-width="0.9"/>
<line x1="273.6" y1="542.7" x2="276.6" y2="542.7" stroke="#1a1a1a" stroke-width="0.9"/>
<text x="270.8" y="543" font-size="7.9" fill="#222" font-weight="normal" text-anchor="end" dominant-baseline="central">4.5</text>
<line x1="273.6" y1="558.2" x2="276.6" y2="558.2" stroke="#1a1a1a" stroke-width="0.9"/>
<text x="270.8" y="558.5" font-size="7.9" fill="#222" font-weight="normal" text-anchor="end" dominant-baseline="central">4.0</text>
<line x1="273.6" y1="573.7" x2="276.6" y2="573.7" stroke="#1a1a1a" stroke-width="0.9"/>
<text x="270.8" y="574" font-size="7.9" fill="#222" font-weight="normal" text-anchor="end" dominant-baseline="central">3.5</text>
<line x1="276.6" y1="584.1" x2="380" y2="584.1" stroke="#1a1a1a" stroke-width="0.9"/>
<line x1="301.4" y1="584.1" x2="301.4" y2="586.3" stroke="#1a1a1a" stroke-width="0.9"/>
<text x="301.4" y="593.9" font-size="7.6" fill="#222" font-weight="normal" text-anchor="middle" dominant-baseline="central">0</text>
<line x1="326.4" y1="584.1" x2="326.4" y2="586.3" stroke="#1a1a1a" stroke-width="0.9"/>
<text x="326.4" y="593.9" font-size="7.6" fill="#222" font-weight="normal" text-anchor="middle" dominant-baseline="central">10</text>
<line x1="351.9" y1="584.1" x2="351.9" y2="586.3" stroke="#1a1a1a" stroke-width="0.9"/>
<text x="351.9" y="593.9" font-size="7.6" fill="#222" font-weight="normal" text-anchor="middle" dominant-baseline="central">20</text>
<line x1="377.3" y1="584.1" x2="377.3" y2="586.3" stroke="#1a1a1a" stroke-width="0.9"/>
<text x="377.3" y="593.9" font-size="7.6" fill="#222" font-weight="normal" text-anchor="middle" dominant-baseline="central">30</text>
<text x="329.5" y="535.8" font-size="9.6" fill="#222" font-weight="normal" text-anchor="middle" textLength="50.7" lengthAdjust="spacingAndGlyphs" dominant-baseline="central">Chemokines</text>
<path d="M281,563.3 C283.58,563.75 291.33,565.73 296.5,566 C301.67,566.27 306.83,564.72 312,564.9 C317.17,565.08 322.33,566.18 327.5,567.1 C332.67,568.02 337.1,570.03 343,570.4 C348.9,570.77 357.18,570.4 362.9,569.3 C368.62,568.2 374.9,564.72 377.3,563.8 L377.3,572.6 C374.9,572.6 368.62,572.42 362.9,572.6 C357.18,572.78 348.9,573.88 343,573.7 C337.1,573.52 332.67,572.23 327.5,571.5 C322.33,570.77 317.17,569.3 312,569.3 C306.83,569.3 301.67,570.58 296.5,571.5 C291.33,572.42 283.58,574.25 281,574.8Z" fill="#6f88bf" fill-opacity="0.36"/>
<path d="M288.1,554.5 C289.5,554.02 292.88,553.02 296.5,551.6 C300.12,550.18 305.73,547.3 309.8,546 C313.87,544.7 316.83,543.6 320.9,543.8 C324.97,544 329.42,545.9 334.2,547.2 C338.98,548.5 344.82,550.38 349.6,551.6 C354.38,552.82 359.13,553.77 362.9,554.5 C366.67,555.23 370.65,555.75 372.2,556 L372.2,581.5 C369.92,580.38 363.37,576.65 358.5,574.8 C353.63,572.95 347.8,572.23 343,570.4 C338.2,568.57 333.38,565.57 329.7,563.8 C326.02,562.03 324.22,559.8 320.9,559.8 C317.58,559.8 313.87,562.22 309.8,563.8 C305.73,565.38 300.12,567.47 296.5,569.3 C292.88,571.13 289.5,573.88 288.1,574.8Z" fill="#e0787a" fill-opacity="0.36"/>
<path d="M281,568.8 C284.33,568.77 295.83,568.82 301,568.6 C306.17,568.38 308.32,567.57 312,567.5 C315.68,567.43 319.03,567.65 323.1,568.2 C327.17,568.75 331.23,570.25 336.4,570.8 C341.57,571.35 347.28,571.75 354.1,571.5 C360.92,571.25 373.43,569.67 377.3,569.3" fill="none" stroke="#1b4a70" stroke-width="1.3" stroke-linecap="round"/>
<path d="M288.1,564.9 C290.25,564.27 297.02,562.58 301,561.1 C304.98,559.62 308.68,557.33 312,556 C315.32,554.67 317.57,552.92 320.9,553.1 C324.23,553.28 327.58,555.5 332,557.1 C336.42,558.7 342.25,561.03 347.4,562.7 C352.55,564.37 358.77,566 362.9,567.1 C367.03,568.2 370.65,568.93 372.2,569.3" fill="none" stroke="#b01a3e" stroke-width="1.3" stroke-linecap="round"/>
<line x1="412.1" y1="542.7" x2="412.1" y2="584.1" stroke="#1a1a1a" stroke-width="0.9"/>
<line x1="409.1" y1="547.2" x2="412.1" y2="547.2" stroke="#1a1a1a" stroke-width="0.9"/>
<text x="406.3" y="547.5" font-size="7.9" fill="#222" font-weight="normal" text-anchor="end" dominant-baseline="central">3.5</text>
<line x1="409.1" y1="557.1" x2="412.1" y2="557.1" stroke="#1a1a1a" stroke-width="0.9"/>
<text x="406.3" y="557.4" font-size="7.9" fill="#222" font-weight="normal" text-anchor="end" dominant-baseline="central">3.0</text>
<line x1="409.1" y1="567.1" x2="412.1" y2="567.1" stroke="#1a1a1a" stroke-width="0.9"/>
<text x="406.3" y="567.4" font-size="7.9" fill="#222" font-weight="normal" text-anchor="end" dominant-baseline="central">2.5</text>
<line x1="409.1" y1="577" x2="412.1" y2="577" stroke="#1a1a1a" stroke-width="0.9"/>
<text x="406.3" y="577.3" font-size="7.9" fill="#222" font-weight="normal" text-anchor="end" dominant-baseline="central">2.0</text>
<line x1="412.1" y1="584.1" x2="517.3" y2="584.1" stroke="#1a1a1a" stroke-width="0.9"/>
<line x1="437.1" y1="584.1" x2="437.1" y2="586.3" stroke="#1a1a1a" stroke-width="0.9"/>
<text x="437.1" y="593.9" font-size="7.6" fill="#222" font-weight="normal" text-anchor="middle" dominant-baseline="central">0</text>
<line x1="462.5" y1="584.1" x2="462.5" y2="586.3" stroke="#1a1a1a" stroke-width="0.9"/>
<text x="462.5" y="593.9" font-size="7.6" fill="#222" font-weight="normal" text-anchor="middle" dominant-baseline="central">10</text>
<line x1="487.3" y1="584.1" x2="487.3" y2="586.3" stroke="#1a1a1a" stroke-width="0.9"/>
<text x="487.3" y="593.9" font-size="7.6" fill="#222" font-weight="normal" text-anchor="middle" dominant-baseline="central">20</text>
<line x1="513" y1="584.1" x2="513" y2="586.3" stroke="#1a1a1a" stroke-width="0.9"/>
<text x="513" y="593.9" font-size="7.6" fill="#222" font-weight="normal" text-anchor="middle" dominant-baseline="central">30</text>
<text x="465.2" y="535.8" font-size="9.6" fill="#222" font-weight="normal" text-anchor="middle" textLength="60" lengthAdjust="spacingAndGlyphs" dominant-baseline="central">Growth factors</text>
<path d="M416.1,561.5 C419.05,561.7 428.28,562.7 433.8,562.7 C439.32,562.7 442.93,561.13 449.2,561.5 C455.47,561.87 464.02,564.15 471.4,564.9 C478.78,565.65 486.57,566.18 493.5,566 C500.43,565.82 509.75,564.17 513,563.8 L513,577 C509.75,576.27 500.43,573.7 493.5,572.6 C486.57,571.5 478.78,571.5 471.4,570.4 C464.02,569.3 455.47,566.55 449.2,566 C442.93,565.45 439.32,565.27 433.8,567.1 C428.28,568.93 419.05,575.35 416.1,577Z" fill="#6f88bf" fill-opacity="0.36"/>
<path d="M423.8,570.4 C425.47,569.3 430.3,566.38 433.8,563.8 C437.3,561.22 441.48,557.12 444.8,554.9 C448.12,552.68 449.63,551.42 453.7,550.5 C457.77,549.58 464.05,549.95 469.2,549.4 C474.35,548.85 479.82,547.93 484.6,547.2 C489.38,546.47 494.02,545.37 497.9,545 C501.78,544.63 506.23,545 507.9,545 L507.9,566 C506.23,565.25 501.78,562.25 497.9,561.5 C494.02,560.75 489.38,561.12 484.6,561.5 C479.82,561.88 474.35,563.6 469.2,563.8 C464.05,564 457.77,562.33 453.7,562.7 C449.63,563.07 448.12,563.98 444.8,566 C441.48,568.02 437.3,572.03 433.8,574.8 C430.3,577.57 425.47,581.3 423.8,582.6Z" fill="#e0787a" fill-opacity="0.36"/>
<path d="M416.1,569.3 C419.05,568.57 428.65,565.9 433.8,564.9 C438.95,563.9 442.95,563.3 447,563.3 C451.05,563.3 454.03,564.17 458.1,564.9 C462.17,565.63 466.23,567.08 471.4,567.7 C476.57,568.32 482.17,568.15 489.1,568.6 C496.03,569.05 509.02,570.1 513,570.4" fill="none" stroke="#1b4a70" stroke-width="1.3" stroke-linecap="round"/>
<path d="M423.8,574.4 C425.83,573.18 432.5,569.25 436,567.1 C439.5,564.95 441.85,563.17 444.8,561.5 C447.75,559.83 450.75,558.02 453.7,557.1 C456.65,556.18 459.55,556 462.5,556 C465.45,556 468.45,557.28 471.4,557.1 C474.35,556.92 476.52,555.57 480.2,554.9 C483.88,554.23 488.88,552.98 493.5,553.1 C498.12,553.22 505.5,555.18 507.9,555.6" fill="none" stroke="#b01a3e" stroke-width="1.3" stroke-linecap="round"/>
<line x1="277.1" y1="608.3" x2="277.1" y2="653.7" stroke="#1a1a1a" stroke-width="0.9"/>
<line x1="274.1" y1="612.7" x2="277.1" y2="612.7" stroke="#1a1a1a" stroke-width="0.9"/>
<text x="271.3" y="613" font-size="7.9" fill="#222" font-weight="normal" text-anchor="end" dominant-baseline="central">3.2</text>
<line x1="274.1" y1="623.1" x2="277.1" y2="623.1" stroke="#1a1a1a" stroke-width="0.9"/>
<text x="271.3" y="623.4" font-size="7.9" fill="#222" font-weight="normal" text-anchor="end" dominant-baseline="central">2.8</text>
<line x1="274.1" y1="633.3" x2="277.1" y2="633.3" stroke="#1a1a1a" stroke-width="0.9"/>
<text x="271.3" y="633.6" font-size="7.9" fill="#222" font-weight="normal" text-anchor="end" dominant-baseline="central">2.4</text>
<line x1="274.1" y1="643.3" x2="277.1" y2="643.3" stroke="#1a1a1a" stroke-width="0.9"/>
<text x="271.3" y="643.6" font-size="7.9" fill="#222" font-weight="normal" text-anchor="end" dominant-baseline="central">2.0</text>
<line x1="274.1" y1="653.2" x2="277.1" y2="653.2" stroke="#1a1a1a" stroke-width="0.9"/>
<text x="271.3" y="653.5" font-size="7.9" fill="#222" font-weight="normal" text-anchor="end" dominant-baseline="central">1.6</text>
<line x1="277.1" y1="653.7" x2="380" y2="653.7" stroke="#1a1a1a" stroke-width="0.9"/>
<line x1="301.4" y1="653.7" x2="301.4" y2="655.9" stroke="#1a1a1a" stroke-width="0.9"/>
<text x="301.4" y="663.5" font-size="7.6" fill="#222" font-weight="normal" text-anchor="middle" dominant-baseline="central">0</text>
<line x1="327.1" y1="653.7" x2="327.1" y2="655.9" stroke="#1a1a1a" stroke-width="0.9"/>
<text x="327.1" y="663.5" font-size="7.6" fill="#222" font-weight="normal" text-anchor="middle" dominant-baseline="central">10</text>
<line x1="352.3" y1="653.7" x2="352.3" y2="655.9" stroke="#1a1a1a" stroke-width="0.9"/>
<text x="352.3" y="663.5" font-size="7.6" fill="#222" font-weight="normal" text-anchor="middle" dominant-baseline="central">20</text>
<line x1="377.3" y1="653.7" x2="377.3" y2="655.9" stroke="#1a1a1a" stroke-width="0.9"/>
<text x="377.3" y="663.5" font-size="7.6" fill="#222" font-weight="normal" text-anchor="middle" dominant-baseline="central">30</text>
<text x="329" y="606.7" font-size="9.6" fill="#222" font-weight="normal" text-anchor="middle" textLength="43" lengthAdjust="spacingAndGlyphs" dominant-baseline="central">IFN &amp; TNF</text>
<path d="M281,624.5 C283.97,625.23 292.52,628.47 298.8,628.9 C305.08,629.33 312.43,627.03 318.7,627.1 C324.97,627.17 329.77,628.57 336.4,629.3 C343.03,630.03 351.68,631.68 358.5,631.5 C365.32,631.32 374.17,628.75 377.3,628.2 L377.3,645.9 C374.17,645.17 365.32,642.6 358.5,641.5 C351.68,640.4 343.03,640.22 336.4,639.3 C329.77,638.38 324.97,636.27 318.7,636 C312.43,635.73 305.08,636.42 298.8,637.7 C292.52,638.98 283.97,642.7 281,643.7Z" fill="#6f88bf" fill-opacity="0.36"/>
<path d="M288.8,628.2 C290.83,628.02 296.77,628.57 301,627.1 C305.23,625.63 310.15,621.42 314.2,619.4 C318.25,617.38 321.6,615.85 325.3,615 C329,614.15 331.97,613.75 336.4,614.3 C340.83,614.85 347.48,617.08 351.9,618.3 C356.32,619.52 359.52,621.17 362.9,621.6 C366.28,622.03 370.65,621.02 372.2,620.9 L372.2,645.9 C369.92,644.62 363.73,640.22 358.5,638.2 C353.27,636.18 345.97,634.72 340.8,633.8 C335.63,632.88 331.93,631.97 327.5,632.7 C323.07,633.43 318.62,636.18 314.2,638.2 C309.78,640.22 305.23,642.58 301,644.8 C296.77,647.02 290.83,650.38 288.8,651.5Z" fill="#e0787a" fill-opacity="0.36"/>
<path d="M281,633.8 C283.97,633.72 292.52,633.87 298.8,633.3 C305.08,632.73 312.43,630.32 318.7,630.4 C324.97,630.48 330.5,632.68 336.4,633.8 C342.3,634.92 347.28,636.63 354.1,637.1 C360.92,637.57 373.43,636.68 377.3,636.6" fill="none" stroke="#1b4a70" stroke-width="1.3" stroke-linecap="round"/>
<path d="M288.8,640 C290.83,639.7 296.77,639.68 301,638.2 C305.23,636.72 309.78,633.13 314.2,631.1 C318.62,629.07 323.8,626.95 327.5,626 C331.2,625.05 331.97,624.77 336.4,625.4 C340.83,626.03 348.13,628.03 354.1,629.8 C360.07,631.57 369.18,634.97 372.2,636" fill="none" stroke="#b01a3e" stroke-width="1.3" stroke-linecap="round"/>
<line x1="412.1" y1="613.8" x2="412.1" y2="653.7" stroke="#1a1a1a" stroke-width="0.9"/>
<line x1="409.1" y1="617.8" x2="412.1" y2="617.8" stroke="#1a1a1a" stroke-width="0.9"/>
<text x="406.3" y="618.1" font-size="7.9" fill="#222" font-weight="normal" text-anchor="end" dominant-baseline="central">4.0</text>
<line x1="409.1" y1="626" x2="412.1" y2="626" stroke="#1a1a1a" stroke-width="0.9"/>
<text x="406.3" y="626.3" font-size="7.9" fill="#222" font-weight="normal" text-anchor="end" dominant-baseline="central">3.5</text>
<line x1="409.1" y1="633.8" x2="412.1" y2="633.8" stroke="#1a1a1a" stroke-width="0.9"/>
<text x="406.3" y="634.1" font-size="7.9" fill="#222" font-weight="normal" text-anchor="end" dominant-baseline="central">3.0</text>
<line x1="409.1" y1="642.2" x2="412.1" y2="642.2" stroke="#1a1a1a" stroke-width="0.9"/>
<text x="406.3" y="642.5" font-size="7.9" fill="#222" font-weight="normal" text-anchor="end" dominant-baseline="central">2.5</text>
<line x1="409.1" y1="650.4" x2="412.1" y2="650.4" stroke="#1a1a1a" stroke-width="0.9"/>
<text x="406.3" y="650.7" font-size="7.9" fill="#222" font-weight="normal" text-anchor="end" dominant-baseline="central">2.0</text>
<line x1="412.1" y1="653.7" x2="517.3" y2="653.7" stroke="#1a1a1a" stroke-width="0.9"/>
<line x1="437.1" y1="653.7" x2="437.1" y2="655.9" stroke="#1a1a1a" stroke-width="0.9"/>
<text x="437.1" y="663.5" font-size="7.6" fill="#222" font-weight="normal" text-anchor="middle" dominant-baseline="central">0</text>
<line x1="462.1" y1="653.7" x2="462.1" y2="655.9" stroke="#1a1a1a" stroke-width="0.9"/>
<text x="462.1" y="663.5" font-size="7.6" fill="#222" font-weight="normal" text-anchor="middle" dominant-baseline="central">10</text>
<line x1="487.3" y1="653.7" x2="487.3" y2="655.9" stroke="#1a1a1a" stroke-width="0.9"/>
<text x="487.3" y="663.5" font-size="7.6" fill="#222" font-weight="normal" text-anchor="middle" dominant-baseline="central">20</text>
<line x1="513" y1="653.7" x2="513" y2="655.9" stroke="#1a1a1a" stroke-width="0.9"/>
<text x="513" y="663.5" font-size="7.6" fill="#222" font-weight="normal" text-anchor="middle" dominant-baseline="central">30</text>
<text x="464.9" y="607.5" font-size="9.6" fill="#222" font-weight="normal" text-anchor="middle" textLength="44.7" lengthAdjust="spacingAndGlyphs" dominant-baseline="central">Interleukins</text>
<path d="M416.1,641.5 C419.05,641.87 427.53,643.95 433.8,643.7 C440.07,643.45 446.33,640 453.7,640 C461.07,640 468.12,643.33 478,643.7 C487.88,644.07 507.17,642.45 513,642.2 L513,650.4 C507.17,650.13 487.88,649.65 478,648.8 C468.12,647.95 461.07,645.42 453.7,645.3 C446.33,645.18 440.07,647.25 433.8,648.1 C427.53,648.95 419.05,650.02 416.1,650.4Z" fill="#6f88bf" fill-opacity="0.36"/>
<path d="M424.5,638.2 C426.42,637.47 432.25,636.02 436,633.8 C439.75,631.58 443.32,627.48 447,624.9 C450.68,622.32 454.4,619.85 458.1,618.3 C461.8,616.75 464.03,616.05 469.2,615.6 C474.37,615.15 482.65,615.7 489.1,615.6 C495.55,615.5 504.77,615.1 507.9,615 L507.9,632.7 C504.77,631.77 495.55,628.22 489.1,627.1 C482.65,625.98 474.37,625.82 469.2,626 C464.03,626.18 461.8,626.72 458.1,628.2 C454.4,629.68 450.68,632.32 447,634.9 C443.32,637.48 439.75,641.5 436,643.7 C432.25,645.9 426.42,647.37 424.5,648.1Z" fill="#e0787a" fill-opacity="0.36"/>
<path d="M416.1,646.6 C419.05,646.48 427.53,646.57 433.8,645.9 C440.07,645.23 446.33,642.52 453.7,642.6 C461.07,642.68 468.12,645.8 478,646.4 C487.88,647 507.17,646.23 513,646.2" fill="none" stroke="#1b4a70" stroke-width="1.3" stroke-linecap="round"/>
<path d="M424.5,643.7 C426.42,643.15 432.25,642.5 436,640.4 C439.75,638.3 443.32,633.75 447,631.1 C450.68,628.45 454.77,625.97 458.1,624.5 C461.43,623.03 461.83,622.67 467,622.3 C472.17,621.93 482.28,622.05 489.1,622.3 C495.92,622.55 504.77,623.55 507.9,623.8" fill="none" stroke="#b01a3e" stroke-width="1.3" stroke-linecap="round"/>
<text x="397" y="676.7" font-size="9.2" fill="#222" font-weight="normal" text-anchor="middle" textLength="83.3" lengthAdjust="spacingAndGlyphs" dominant-baseline="central" stroke="#222" stroke-width="0.22">Days post CAR T cell infusion</text>
<text transform="translate(251,597) rotate(-90)" font-size="9.2" fill="#222" font-weight="normal" text-anchor="middle" textLength="47.7" lengthAdjust="spacingAndGlyphs" dominant-baseline="central" stroke="#222" stroke-width="0.22">log10(CytoSum)</text>
</svg></body></html>
